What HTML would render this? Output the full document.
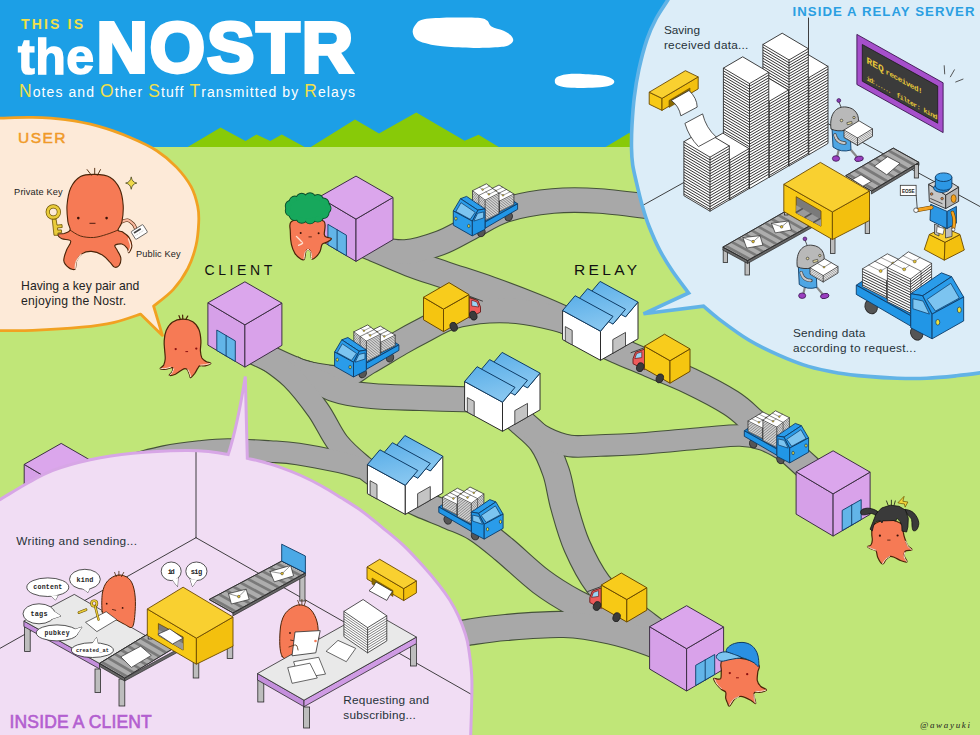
<!DOCTYPE html>
<html lang="en"><head><meta charset="utf-8"><title>This is the NOSTR</title>
<style>
html,body{margin:0;padding:0;background:#c0e678;}
body{width:980px;height:735px;overflow:hidden;font-family:"Liberation Sans",sans-serif;}
svg{display:block;}
</style></head><body>
<svg width="980" height="735" viewBox="0 0 980 735">
<defs><linearGradient id="roofg" x1="0" y1="0" x2="0.3" y2="1"><stop offset="0" stop-color="#5aaee8"/><stop offset="1" stop-color="#86c6f0"/></linearGradient></defs>
<rect x="0" y="0" width="980" height="148" fill="#1c9fe6"/>
<path d="M412.7,32.0 C412.5,29.3 414.1,26.1 416.0,24.0 C417.9,21.9 418.3,20.4 424.0,19.3 C429.7,18.2 441.0,17.9 450.0,17.6 C459.0,17.4 471.8,17.3 478.0,17.8 C484.2,18.3 484.8,19.1 487.0,20.5 C489.2,21.9 488.8,24.8 491.5,26.5 C494.2,28.2 499.8,29.2 503.0,30.6 C506.2,32.0 508.8,33.4 510.5,35.0 C512.2,36.6 513.5,38.8 513.2,40.5 C513.0,42.2 511.2,43.9 509.0,45.0 C506.8,46.1 505.9,46.5 500.0,47.0 C494.1,47.5 482.7,48.0 473.5,47.9 C464.3,47.8 452.4,47.1 445.0,46.5 C437.6,45.9 434.1,45.3 429.4,44.2 C424.7,43.1 419.8,42.0 417.0,40.0 C414.2,38.0 412.9,34.7 412.7,32.0Z" fill="#fff"/>
<path d="M554.8,81.0 C554.8,79.5 555.2,77.7 558.0,76.5 C560.8,75.3 565.1,74.0 571.4,73.7 C577.7,73.4 589.7,74.2 596.0,74.8 C602.3,75.4 606.0,76.2 609.0,77.3 C612.0,78.4 614.1,80.0 614.3,81.4 C614.5,82.8 613.0,84.5 610.0,85.5 C607.0,86.5 602.4,87.1 596.0,87.5 C589.6,87.9 577.7,88.1 571.4,87.8 C565.1,87.5 560.8,86.6 558.0,85.5 C555.2,84.4 554.8,82.5 554.8,81.0Z" fill="#fff"/>
<polygon points="186.0,148.0 220.6,127.6 245.5,141.0 256.5,134.4 270.3,141.0 281.8,134.4 305.5,147.5 310.0,147.5 355.0,119.6 379.0,133.5 416.3,112.6 464.7,140.8 478.5,134.7 500.4,148.0 604.0,148.0 629.0,133.0 660.0,148.0" fill="#88ca08"/>
<rect x="0" y="147" width="980" height="588" fill="#c0e678"/>
<path d="M360.0,242.0 C362.0,242.8 363.7,243.5 372.0,247.0 C380.3,250.5 397.8,258.3 410.0,263.0 C422.2,267.7 431.7,270.5 445.0,275.0 C458.3,279.5 475.0,284.7 490.0,290.0 C505.0,295.3 522.5,302.0 535.0,307.0 C547.5,312.0 556.7,316.2 565.0,320.0 C573.3,323.8 581.7,328.3 585.0,330.0" fill="none" stroke="#45523a" stroke-width="28.2" stroke-linejoin="round"/>
<path d="M360.0,242.0 C362.0,242.8 364.5,245.3 372.0,247.0 C379.5,248.7 393.7,252.7 405.0,252.0 C416.3,251.3 429.2,247.0 440.0,243.0 C450.8,239.0 459.2,233.5 470.0,228.0 C480.8,222.5 491.2,214.5 505.0,210.0 C518.8,205.5 537.2,202.5 553.0,201.0 C568.8,199.5 582.2,199.8 600.0,201.0 C617.8,202.2 650.0,206.8 660.0,208.0" fill="none" stroke="#45523a" stroke-width="25.7" stroke-linejoin="round"/>
<path d="M246.0,347.0 C248.7,348.3 253.0,350.8 262.0,355.0 C271.0,359.2 289.0,368.2 300.0,372.0 C311.0,375.8 320.3,376.8 328.0,378.0 C335.7,379.2 343.0,378.8 346.0,379.0" fill="none" stroke="#45523a" stroke-width="27.2" stroke-linejoin="round"/>
<path d="M300.0,372.0 C306.3,373.1 326.7,380.2 338.0,378.5 C349.3,376.8 357.7,367.9 368.0,362.0 C378.3,356.1 391.0,348.2 400.0,343.0 C409.0,337.8 413.5,335.3 422.0,331.0 C430.5,326.7 439.8,320.4 451.0,317.0 C462.2,313.6 476.7,311.3 489.0,310.5 C501.3,309.7 512.3,310.2 525.0,312.0 C537.7,313.8 555.0,318.0 565.0,321.0 C575.0,324.0 581.7,328.5 585.0,330.0" fill="none" stroke="#45523a" stroke-width="26.2" stroke-linejoin="round"/>
<path d="M292.0,368.0 C299.2,371.6 321.7,384.8 335.0,389.5 C348.3,394.2 357.8,394.6 372.0,396.0 C386.2,397.4 402.8,397.4 420.0,398.0 C437.2,398.6 465.8,399.2 475.0,399.5" fill="none" stroke="#45523a" stroke-width="26.2" stroke-linejoin="round"/>
<path d="M246.0,344.0 C248.7,345.8 254.3,349.3 262.0,355.0 C269.7,360.7 282.7,368.8 292.0,378.0 C301.3,387.2 310.3,399.2 318.0,410.0 C325.7,420.8 330.7,433.7 338.0,443.0 C345.3,452.3 353.0,458.5 362.0,466.0 C371.0,473.5 387.0,484.3 392.0,488.0" fill="none" stroke="#45523a" stroke-width="23.7" stroke-linejoin="round"/>
<path d="M100.0,473.0 C105.8,471.5 124.2,466.8 135.0,464.0 C145.8,461.2 154.2,458.6 165.0,456.5 C175.8,454.4 189.5,452.7 200.0,451.5 C210.5,450.3 216.3,449.5 228.0,449.5 C239.7,449.5 258.3,450.8 270.0,451.5 C281.7,452.2 286.3,452.2 298.0,454.0 C309.7,455.8 329.3,459.7 340.0,462.0 C350.7,464.3 358.3,467.0 362.0,468.0" fill="none" stroke="#45523a" stroke-width="22.7" stroke-linejoin="round"/>
<path d="M505.0,407.0 C507.3,409.2 512.8,414.2 519.0,420.0 C525.2,425.8 535.8,433.3 542.0,442.0 C548.2,450.7 552.3,461.3 556.0,472.0 C559.7,482.7 560.5,493.7 564.0,506.0 C567.5,518.3 571.3,533.0 577.0,546.0 C582.7,559.0 590.5,574.0 598.0,584.0 C605.5,594.0 613.7,599.0 622.0,606.0 C630.3,613.0 639.7,619.7 648.0,626.0 C656.3,632.3 668.0,641.0 672.0,644.0" fill="none" stroke="#45523a" stroke-width="28.2" stroke-linejoin="round"/>
<path d="M505.0,407.0 C507.3,409.2 512.2,414.8 519.0,420.0 C525.8,425.2 537.5,433.7 546.0,438.0 C554.5,442.3 561.0,444.8 570.0,446.0 C579.0,447.2 589.0,445.8 600.0,445.5 C611.0,445.2 618.7,445.2 636.0,444.0 C653.3,442.8 686.7,439.4 704.0,438.0 C721.3,436.6 730.2,435.2 740.0,435.5 C749.8,435.8 755.7,437.1 763.0,439.5 C770.3,441.9 777.8,446.6 784.0,450.0 C790.2,453.4 795.5,456.6 800.0,460.0 C804.5,463.4 809.2,468.7 811.0,470.4" fill="none" stroke="#45523a" stroke-width="22.7" stroke-linejoin="round"/>
<path d="M592.0,338.0 C596.2,340.0 607.3,345.7 617.0,350.0 C626.7,354.3 637.8,358.8 650.0,364.0 C662.2,369.2 676.5,374.5 690.0,381.0 C703.5,387.5 720.3,396.2 731.0,403.0 C741.7,409.8 747.2,416.3 754.0,422.0 C760.8,427.7 766.0,432.1 772.0,437.0 C778.0,441.9 783.5,445.8 790.0,451.4 C796.5,457.0 807.5,467.2 811.0,470.4" fill="none" stroke="#45523a" stroke-width="27.7" stroke-linejoin="round"/>
<path d="M400.0,494.0 C403.5,495.7 412.7,500.3 421.0,504.0 C429.3,507.7 440.8,512.0 450.0,516.0 C459.2,520.0 467.0,522.4 476.0,528.0 C485.0,533.6 493.2,540.6 504.0,549.5 C514.8,558.4 529.2,572.6 541.0,581.5 C552.8,590.4 563.2,596.6 575.0,603.0 C586.8,609.4 599.5,613.8 612.0,620.0 C624.5,626.2 639.5,634.2 650.0,640.0 C660.5,645.8 670.8,652.5 675.0,655.0" fill="none" stroke="#45523a" stroke-width="28.2" stroke-linejoin="round"/>
<path d="M440.0,637.0 C445.0,636.2 459.0,633.6 470.0,632.0 C481.0,630.4 490.3,628.8 506.0,627.5 C521.7,626.2 546.7,623.9 564.0,624.5 C581.3,625.1 595.7,627.9 610.0,631.0 C624.3,634.1 639.2,639.0 650.0,643.0 C660.8,647.0 670.8,653.0 675.0,655.0" fill="none" stroke="#45523a" stroke-width="27.2" stroke-linejoin="round"/>
<path d="M360.0,242.0 C362.0,242.8 363.7,243.5 372.0,247.0 C380.3,250.5 397.8,258.3 410.0,263.0 C422.2,267.7 431.7,270.5 445.0,275.0 C458.3,279.5 475.0,284.7 490.0,290.0 C505.0,295.3 522.5,302.0 535.0,307.0 C547.5,312.0 556.7,316.2 565.0,320.0 C573.3,323.8 581.7,328.3 585.0,330.0" fill="none" stroke="#a8a8a8" stroke-width="26" stroke-linejoin="round"/>
<path d="M360.0,242.0 C362.0,242.8 364.5,245.3 372.0,247.0 C379.5,248.7 393.7,252.7 405.0,252.0 C416.3,251.3 429.2,247.0 440.0,243.0 C450.8,239.0 459.2,233.5 470.0,228.0 C480.8,222.5 491.2,214.5 505.0,210.0 C518.8,205.5 537.2,202.5 553.0,201.0 C568.8,199.5 582.2,199.8 600.0,201.0 C617.8,202.2 650.0,206.8 660.0,208.0" fill="none" stroke="#a8a8a8" stroke-width="23.5" stroke-linejoin="round"/>
<path d="M246.0,347.0 C248.7,348.3 253.0,350.8 262.0,355.0 C271.0,359.2 289.0,368.2 300.0,372.0 C311.0,375.8 320.3,376.8 328.0,378.0 C335.7,379.2 343.0,378.8 346.0,379.0" fill="none" stroke="#a8a8a8" stroke-width="25" stroke-linejoin="round"/>
<path d="M300.0,372.0 C306.3,373.1 326.7,380.2 338.0,378.5 C349.3,376.8 357.7,367.9 368.0,362.0 C378.3,356.1 391.0,348.2 400.0,343.0 C409.0,337.8 413.5,335.3 422.0,331.0 C430.5,326.7 439.8,320.4 451.0,317.0 C462.2,313.6 476.7,311.3 489.0,310.5 C501.3,309.7 512.3,310.2 525.0,312.0 C537.7,313.8 555.0,318.0 565.0,321.0 C575.0,324.0 581.7,328.5 585.0,330.0" fill="none" stroke="#a8a8a8" stroke-width="24" stroke-linejoin="round"/>
<path d="M292.0,368.0 C299.2,371.6 321.7,384.8 335.0,389.5 C348.3,394.2 357.8,394.6 372.0,396.0 C386.2,397.4 402.8,397.4 420.0,398.0 C437.2,398.6 465.8,399.2 475.0,399.5" fill="none" stroke="#a8a8a8" stroke-width="24" stroke-linejoin="round"/>
<path d="M246.0,344.0 C248.7,345.8 254.3,349.3 262.0,355.0 C269.7,360.7 282.7,368.8 292.0,378.0 C301.3,387.2 310.3,399.2 318.0,410.0 C325.7,420.8 330.7,433.7 338.0,443.0 C345.3,452.3 353.0,458.5 362.0,466.0 C371.0,473.5 387.0,484.3 392.0,488.0" fill="none" stroke="#a8a8a8" stroke-width="21.5" stroke-linejoin="round"/>
<path d="M100.0,473.0 C105.8,471.5 124.2,466.8 135.0,464.0 C145.8,461.2 154.2,458.6 165.0,456.5 C175.8,454.4 189.5,452.7 200.0,451.5 C210.5,450.3 216.3,449.5 228.0,449.5 C239.7,449.5 258.3,450.8 270.0,451.5 C281.7,452.2 286.3,452.2 298.0,454.0 C309.7,455.8 329.3,459.7 340.0,462.0 C350.7,464.3 358.3,467.0 362.0,468.0" fill="none" stroke="#a8a8a8" stroke-width="20.5" stroke-linejoin="round"/>
<path d="M505.0,407.0 C507.3,409.2 512.8,414.2 519.0,420.0 C525.2,425.8 535.8,433.3 542.0,442.0 C548.2,450.7 552.3,461.3 556.0,472.0 C559.7,482.7 560.5,493.7 564.0,506.0 C567.5,518.3 571.3,533.0 577.0,546.0 C582.7,559.0 590.5,574.0 598.0,584.0 C605.5,594.0 613.7,599.0 622.0,606.0 C630.3,613.0 639.7,619.7 648.0,626.0 C656.3,632.3 668.0,641.0 672.0,644.0" fill="none" stroke="#a8a8a8" stroke-width="26" stroke-linejoin="round"/>
<path d="M505.0,407.0 C507.3,409.2 512.2,414.8 519.0,420.0 C525.8,425.2 537.5,433.7 546.0,438.0 C554.5,442.3 561.0,444.8 570.0,446.0 C579.0,447.2 589.0,445.8 600.0,445.5 C611.0,445.2 618.7,445.2 636.0,444.0 C653.3,442.8 686.7,439.4 704.0,438.0 C721.3,436.6 730.2,435.2 740.0,435.5 C749.8,435.8 755.7,437.1 763.0,439.5 C770.3,441.9 777.8,446.6 784.0,450.0 C790.2,453.4 795.5,456.6 800.0,460.0 C804.5,463.4 809.2,468.7 811.0,470.4" fill="none" stroke="#a8a8a8" stroke-width="20.5" stroke-linejoin="round"/>
<path d="M592.0,338.0 C596.2,340.0 607.3,345.7 617.0,350.0 C626.7,354.3 637.8,358.8 650.0,364.0 C662.2,369.2 676.5,374.5 690.0,381.0 C703.5,387.5 720.3,396.2 731.0,403.0 C741.7,409.8 747.2,416.3 754.0,422.0 C760.8,427.7 766.0,432.1 772.0,437.0 C778.0,441.9 783.5,445.8 790.0,451.4 C796.5,457.0 807.5,467.2 811.0,470.4" fill="none" stroke="#a8a8a8" stroke-width="25.5" stroke-linejoin="round"/>
<path d="M400.0,494.0 C403.5,495.7 412.7,500.3 421.0,504.0 C429.3,507.7 440.8,512.0 450.0,516.0 C459.2,520.0 467.0,522.4 476.0,528.0 C485.0,533.6 493.2,540.6 504.0,549.5 C514.8,558.4 529.2,572.6 541.0,581.5 C552.8,590.4 563.2,596.6 575.0,603.0 C586.8,609.4 599.5,613.8 612.0,620.0 C624.5,626.2 639.5,634.2 650.0,640.0 C660.5,645.8 670.8,652.5 675.0,655.0" fill="none" stroke="#a8a8a8" stroke-width="26" stroke-linejoin="round"/>
<path d="M440.0,637.0 C445.0,636.2 459.0,633.6 470.0,632.0 C481.0,630.4 490.3,628.8 506.0,627.5 C521.7,626.2 546.7,623.9 564.0,624.5 C581.3,625.1 595.7,627.9 610.0,631.0 C624.3,634.1 639.2,639.0 650.0,643.0 C660.8,647.0 670.8,653.0 675.0,655.0" fill="none" stroke="#a8a8a8" stroke-width="25" stroke-linejoin="round"/>
<polygon points="24.2,506.7 61.2,528.7 61.2,486.4 24.2,464.4" fill="#d6a0e8" stroke="#3d2f45" stroke-width="1" stroke-linejoin="round" />
<polygon points="61.2,528.7 98.2,507.0 98.2,464.7 61.2,486.4" fill="#d9a2ea" stroke="#3d2f45" stroke-width="1" stroke-linejoin="round" />
<polygon points="24.2,464.4 61.2,486.4 98.2,464.7 61.2,443.4" fill="#dba6ec" stroke="#3d2f45" stroke-width="1" stroke-linejoin="round" />
<polygon points="319.0,239.4 356.0,261.4 356.0,219.1 319.0,197.1" fill="#d6a0e8" stroke="#3d2f45" stroke-width="1" stroke-linejoin="round" />
<polygon points="356.0,261.4 393.0,239.7 393.0,197.4 356.0,219.1" fill="#d9a2ea" stroke="#3d2f45" stroke-width="1" stroke-linejoin="round" />
<polygon points="319.0,197.1 356.0,219.1 393.0,197.4 356.0,176.1" fill="#dba6ec" stroke="#3d2f45" stroke-width="1" stroke-linejoin="round" />
<polygon points="327.9,224.3 346.4,235.2 346.4,255.7 327.9,244.8" fill="#62b5e8" stroke="#0d3b66" stroke-width="0.9" stroke-linejoin="round" />
<polyline points="337.1,229.8 337.1,250.2" fill="none" stroke="#0d3b66" stroke-width="0.9" stroke-linejoin="round" stroke-linecap="round" />
<path d="M291.4,221.4 C288.5,223.6 290.3,227.6 290.3,231.4 C290.3,235.2 290.6,240.6 291.4,244.3 C292.2,248.0 293.5,251.1 295.0,253.6 C296.5,256.0 299.2,257.9 300.7,258.9 C302.3,259.8 303.5,260.4 304.3,259.3 C305.1,258.2 305.1,253.8 305.7,252.1 C306.3,250.5 307.0,249.3 307.9,249.3 C308.7,249.3 310.1,250.5 310.7,252.1 C311.4,253.7 310.9,258.0 311.7,258.9 C312.5,259.7 314.3,258.4 315.7,257.1 C317.1,255.9 318.9,253.6 320.0,251.4 C321.1,249.3 321.0,245.8 322.1,244.3 C323.3,242.7 325.6,243.1 327.1,242.1 C328.7,241.2 331.5,239.4 331.4,238.6 C331.3,237.7 327.6,237.9 326.4,237.1 C325.2,236.4 324.7,236.9 324.3,234.3 C323.9,231.7 326.7,224.0 324.0,221.4 C321.3,218.8 313.3,218.6 307.9,218.6 C302.4,218.6 294.4,219.3 291.4,221.4Z" fill="#f67a55" stroke="#4a2408" stroke-width="1.2" stroke-linejoin="round" stroke-linecap="round" />
<path d="M304.0,258.9 C304.2,257.8 304.5,254.1 305.1,252.6 C305.8,251.0 307.3,250.0 307.7,249.4" fill="none" stroke="#fde3d2" stroke-width="1.0" stroke-linejoin="round" stroke-linecap="round" />
<path d="M311.6,258.6 C311.5,257.6 311.5,254.1 311.0,252.6 C310.5,251.0 308.7,250.0 308.3,249.4" fill="none" stroke="#fde3d2" stroke-width="1.0" stroke-linejoin="round" stroke-linecap="round" />
<path d="M296.4,236.4 C297.1,237.1 299.7,239.6 300.7,240.7 C301.7,241.8 302.9,242.4 302.6,243.1 C302.2,243.9 299.2,245.0 298.6,245.4" fill="none" stroke="#fde3d2" stroke-width="1.3" stroke-linejoin="round" stroke-linecap="round" />
<circle cx="300.7" cy="232.9" r="1.0" fill="#3a1208"/>
<circle cx="318.6" cy="233.3" r="1.0" fill="#3a1208"/>
<polyline points="308.9,236.9 311.4,236.9" fill="none" stroke="#3a1208" stroke-width="0.8" stroke-linejoin="round" stroke-linecap="round" />
<circle cx="325.4" cy="208.3" r="5.2" fill="#17a85c" stroke="#0b4f2a" stroke-width="1.8"/>
<circle cx="323.4" cy="212.9" r="5.2" fill="#17a85c" stroke="#0b4f2a" stroke-width="1.8"/>
<circle cx="317.8" cy="216.5" r="5.2" fill="#17a85c" stroke="#0b4f2a" stroke-width="1.8"/>
<circle cx="310.0" cy="218.2" r="5.2" fill="#17a85c" stroke="#0b4f2a" stroke-width="1.8"/>
<circle cx="301.7" cy="217.6" r="5.2" fill="#17a85c" stroke="#0b4f2a" stroke-width="1.8"/>
<circle cx="294.8" cy="214.9" r="5.2" fill="#17a85c" stroke="#0b4f2a" stroke-width="1.8"/>
<circle cx="290.9" cy="210.7" r="5.2" fill="#17a85c" stroke="#0b4f2a" stroke-width="1.8"/>
<circle cx="290.9" cy="205.9" r="5.2" fill="#17a85c" stroke="#0b4f2a" stroke-width="1.8"/>
<circle cx="294.8" cy="201.7" r="5.2" fill="#17a85c" stroke="#0b4f2a" stroke-width="1.8"/>
<circle cx="301.7" cy="198.9" r="5.2" fill="#17a85c" stroke="#0b4f2a" stroke-width="1.8"/>
<circle cx="310.0" cy="198.4" r="5.2" fill="#17a85c" stroke="#0b4f2a" stroke-width="1.8"/>
<circle cx="317.8" cy="200.1" r="5.2" fill="#17a85c" stroke="#0b4f2a" stroke-width="1.8"/>
<circle cx="323.4" cy="203.6" r="5.2" fill="#17a85c" stroke="#0b4f2a" stroke-width="1.8"/>
<circle cx="325.4" cy="208.3" r="5.2" fill="#17a85c"/>
<circle cx="323.4" cy="212.9" r="5.2" fill="#17a85c"/>
<circle cx="317.8" cy="216.5" r="5.2" fill="#17a85c"/>
<circle cx="310.0" cy="218.2" r="5.2" fill="#17a85c"/>
<circle cx="301.7" cy="217.6" r="5.2" fill="#17a85c"/>
<circle cx="294.8" cy="214.9" r="5.2" fill="#17a85c"/>
<circle cx="290.9" cy="210.7" r="5.2" fill="#17a85c"/>
<circle cx="290.9" cy="205.9" r="5.2" fill="#17a85c"/>
<circle cx="294.8" cy="201.7" r="5.2" fill="#17a85c"/>
<circle cx="301.7" cy="198.9" r="5.2" fill="#17a85c"/>
<circle cx="310.0" cy="198.4" r="5.2" fill="#17a85c"/>
<circle cx="317.8" cy="200.1" r="5.2" fill="#17a85c"/>
<circle cx="323.4" cy="203.6" r="5.2" fill="#17a85c"/>
<ellipse cx="307.9" cy="208.3" rx="17.5" ry="10.0" fill="#17a85c"/>
<g transform="translate(472.2,235.9) scale(-1.0,1.0)">
<ellipse cx="-36.5" cy="-19.2" rx="3.6" ry="4.3" fill="#555" stroke="#2b2b2b" stroke-width="0.9" transform="rotate(-25 -36.5 -19.2)"/>
<ellipse cx="-9.2" cy="-3.4" rx="3.6" ry="4.3" fill="#555" stroke="#2b2b2b" stroke-width="0.9" transform="rotate(-25 -9.2 -3.4)"/>
<polygon points="-45.4,-32.1 -12.8,-13.8 5.6,-26.2 -27.0,-44.5" fill="#1a86d6" stroke="#0d3b66" stroke-width="0.9" stroke-linejoin="round" />
<polygon points="-41.7,-31.3 -27.3,-24.2 -12.4,-33.2 -12.4,-43.8 -26.8,-50.9 -41.7,-41.9" fill="#ffffff" stroke="#2b2b2b" stroke-width="0.75" stroke-linejoin="round" />
<path d="M-41.7,-40.3 L-27.3,-33.2 L-12.4,-42.2 M-41.7,-38.7 L-27.3,-31.6 L-12.4,-40.6 M-41.7,-37.1 L-27.3,-30.0 L-12.4,-39.0 M-41.7,-35.5 L-27.3,-28.4 L-12.4,-37.4 M-41.7,-33.9 L-27.3,-26.8 L-12.4,-35.8 M-41.7,-32.3 L-27.3,-25.2 L-12.4,-34.2" fill="none" stroke="#2b2b2b" stroke-width="0.55"/>
<polyline points="-41.7,-41.9 -27.3,-34.8 -12.4,-43.8" fill="none" stroke="#2b2b2b" stroke-width="0.75" stroke-linejoin="round" stroke-linecap="round" />
<polyline points="-27.3,-34.8 -27.3,-24.2" fill="none" stroke="#2b2b2b" stroke-width="0.75" stroke-linejoin="round" stroke-linecap="round" />
<polyline points="-34.2,-46.4 -19.9,-39.3 -19.9,-28.7" fill="none" stroke="#2b2b2b" stroke-width="0.6" stroke-linejoin="round" stroke-linecap="round" />
<polyline points="-38.0,-44.1 -30.8,-40.6 -27.1,-42.8" fill="none" stroke="#2b2b2b" stroke-width="0.45" stroke-linejoin="round" stroke-linecap="round" />
<circle cx="-30.8" cy="-40.6" r="0.9" fill="#e3c230" stroke="#2b2b2b" stroke-width="0.4"/>
<polyline points="-30.5,-48.6 -23.3,-45.1 -19.6,-47.3" fill="none" stroke="#2b2b2b" stroke-width="0.45" stroke-linejoin="round" stroke-linecap="round" />
<circle cx="-23.3" cy="-45.1" r="0.9" fill="#e3c230" stroke="#2b2b2b" stroke-width="0.4"/>
<polygon points="-26.8,-22.3 -12.9,-15.4 -0.3,-24.8 -0.3,-45.2 -14.2,-52.1 -26.8,-42.7" fill="#ffffff" stroke="#2b2b2b" stroke-width="0.75" stroke-linejoin="round" />
<path d="M-26.8,-41.1 L-12.9,-34.2 L-0.3,-43.6 M-26.8,-39.5 L-12.9,-32.6 L-0.3,-42.0 M-26.8,-37.9 L-12.9,-31.0 L-0.3,-40.4 M-26.8,-36.3 L-12.9,-29.4 L-0.3,-38.8 M-26.8,-34.7 L-12.9,-27.8 L-0.3,-37.2 M-26.8,-33.1 L-12.9,-26.2 L-0.3,-35.6 M-26.8,-31.5 L-12.9,-24.6 L-0.3,-34.0 M-26.8,-29.9 L-12.9,-23.0 L-0.3,-32.4 M-26.8,-28.3 L-12.9,-21.4 L-0.3,-30.8 M-26.8,-26.7 L-12.9,-19.8 L-0.3,-29.2 M-26.8,-25.1 L-12.9,-18.2 L-0.3,-27.6 M-26.8,-23.5 L-12.9,-16.6 L-0.3,-26.0" fill="none" stroke="#2b2b2b" stroke-width="0.55"/>
<polyline points="-26.8,-42.7 -12.9,-35.8 -0.3,-45.2" fill="none" stroke="#2b2b2b" stroke-width="0.75" stroke-linejoin="round" stroke-linecap="round" />
<polyline points="-12.9,-35.8 -12.9,-15.4" fill="none" stroke="#2b2b2b" stroke-width="0.75" stroke-linejoin="round" stroke-linecap="round" />
<polyline points="-20.5,-47.4 -6.6,-40.5 -6.6,-20.1" fill="none" stroke="#2b2b2b" stroke-width="0.6" stroke-linejoin="round" stroke-linecap="round" />
<polyline points="-23.6,-45.0 -16.7,-41.6 -13.6,-44.0" fill="none" stroke="#2b2b2b" stroke-width="0.45" stroke-linejoin="round" stroke-linecap="round" />
<circle cx="-16.7" cy="-41.6" r="0.9" fill="#e3c230" stroke="#2b2b2b" stroke-width="0.4"/>
<polyline points="-17.4,-49.8 -10.4,-46.3 -7.2,-48.7" fill="none" stroke="#2b2b2b" stroke-width="0.45" stroke-linejoin="round" stroke-linecap="round" />
<circle cx="-10.4" cy="-46.3" r="0.9" fill="#e3c230" stroke="#2b2b2b" stroke-width="0.4"/>
<polygon points="-45.4,-32.1 -12.8,-13.8 -12.8,-7.6 -45.4,-26.6" fill="#2196e6" stroke="#0d3b66" stroke-width="0.9" stroke-linejoin="round" />
<polygon points="-12.8,-27.0 5.6,-39.5 11.7,-37.2 -5.6,-25.8" fill="#2a9cea" stroke="#0d3b66" stroke-width="0.9" stroke-linejoin="round" />
<polygon points="-12.8,-6.6 -12.8,-27.0 -5.6,-25.8 0.0,-14.8 0.0,0.0" fill="#2196e6" stroke="#0d3b66" stroke-width="0.9" stroke-linejoin="round" />
<polygon points="0.0,-14.8 -5.6,-25.8 11.7,-37.2 18.9,-25.0" fill="#2a9cea" stroke="#0d3b66" stroke-width="0.9" stroke-linejoin="round" />
<polygon points="0.0,-14.8 18.9,-25.0 18.9,-10.7 0.0,0.0" fill="#2a9cea" stroke="#0d3b66" stroke-width="0.9" stroke-linejoin="round" />
<polygon points="2.0,-16.6 -3.0,-23.6 11.2,-33.2 16.3,-24.4" fill="#7cc4f0" stroke="#0d3b66" stroke-width="0.7200000000000001" stroke-linejoin="round" />
<polygon points="-11.5,-24.0 -5.4,-22.6 -1.6,-14.8 -11.5,-18.0" fill="#7cc4f0" stroke="#0d3b66" stroke-width="0.7200000000000001" stroke-linejoin="round" />
<ellipse cx="3.4" cy="-9.9" rx="1.2" ry="1.7" fill="#f2e23a" stroke="#0d3b66" stroke-width="0.7200000000000001"/>
<ellipse cx="16.3" cy="-17.3" rx="1.2" ry="1.7" fill="#f2e23a" stroke="#0d3b66" stroke-width="0.7200000000000001"/>
</g>
<g transform="translate(443.5,331.6) scale(-1,1)">
<polygon points="-25.5,-34.0 -34.5,-31.0 -37.0,-24.5 -37.0,-19.5 -25.5,-13.5" fill="#ee5a5a" stroke="#6a1a1a" stroke-width="0.9" stroke-linejoin="round" />
<polygon points="-35.2,-24.6 -33.4,-29.6 -28.2,-31.4 -28.2,-25.6" fill="#9ad4f5" stroke="#6a1a1a" stroke-width="0.7" stroke-linejoin="round" />
<polyline points="-25.5,-35.5 -39.0,-30.5" fill="none" stroke="#333" stroke-width="0.9" stroke-linejoin="round" stroke-linecap="round" />
<polygon points="-25.5,-14.5 0.0,0.0 0.0,-22.5 -25.5,-37.0" fill="#f7c915" stroke="#6b4a00" stroke-width="1.0" stroke-linejoin="round" />
<polygon points="0.0,0.0 20.0,-11.8 20.0,-34.3 0.0,-22.5" fill="#f5c510" stroke="#6b4a00" stroke-width="1.0" stroke-linejoin="round" />
<polygon points="-25.5,-37.0 0.0,-22.5 20.0,-34.3 -5.5,-49.0" fill="#f8cc1c" stroke="#6b4a00" stroke-width="1.0" stroke-linejoin="round" />
<ellipse cx="-29.8" cy="-16.0" rx="3.5" ry="4.6" fill="#3b3b3b" stroke="#222" stroke-width="0.8" transform="rotate(20 -29.8 -16.0)"/>
<ellipse cx="-10.2" cy="-4.8" rx="3.5" ry="4.6" fill="#3b3b3b" stroke="#222" stroke-width="0.8" transform="rotate(20 -10.2 -4.8)"/>
</g>
<polygon points="207.9,345.1 244.9,367.1 244.9,324.8 207.9,302.8" fill="#d6a0e8" stroke="#3d2f45" stroke-width="1" stroke-linejoin="round" />
<polygon points="244.9,367.1 281.9,345.4 281.9,303.1 244.9,324.8" fill="#d9a2ea" stroke="#3d2f45" stroke-width="1" stroke-linejoin="round" />
<polygon points="207.9,302.8 244.9,324.8 281.9,303.1 244.9,281.8" fill="#dba6ec" stroke="#3d2f45" stroke-width="1" stroke-linejoin="round" />
<polygon points="216.8,330.0 235.3,340.9 235.3,361.4 216.8,350.5" fill="#62b5e8" stroke="#0d3b66" stroke-width="0.9" stroke-linejoin="round" />
<polyline points="226.1,335.5 226.1,356.0" fill="none" stroke="#0d3b66" stroke-width="0.9" stroke-linejoin="round" stroke-linecap="round" />
<path d="M182.6,319.2 C179.1,319.3 175.1,320.4 172.3,322.2 C169.6,324.1 167.6,327.3 166.2,330.4 C164.9,333.5 164.4,337.2 164.2,340.6 C163.9,344.0 164.5,347.8 164.7,350.8 C164.9,353.9 165.4,356.6 165.2,359.0 C165.0,361.4 164.5,363.5 163.7,365.1 C162.8,366.7 159.7,368.0 160.1,368.7 C160.5,369.4 164.4,369.4 166.2,369.2 C168.1,369.0 170.2,367.8 171.3,367.7 C172.4,367.5 172.8,367.6 172.9,368.4 C172.9,369.1 172.4,371.1 171.8,372.2 C171.2,373.4 168.7,375.0 169.3,375.3 C169.9,375.6 173.4,375.1 175.4,374.3 C177.4,373.4 179.9,371.1 181.5,370.2 C183.1,369.3 184.1,368.7 185.1,368.7 C186.1,368.7 186.9,369.1 187.7,370.2 C188.4,371.3 189.2,374.1 189.7,375.3 C190.2,376.5 189.9,377.9 190.7,377.6 C191.6,377.2 193.6,374.8 194.8,373.3 C196.0,371.7 197.0,369.4 197.9,368.2 C198.7,366.9 198.5,366.3 199.9,365.9 C201.3,365.5 204.2,366.1 206.0,365.6 C207.9,365.2 210.9,363.9 210.9,363.3 C210.9,362.6 207.5,362.4 206.0,361.5 C204.5,360.6 202.9,359.7 201.9,358.0 C201.0,356.2 200.6,353.7 200.4,350.8 C200.2,347.9 201.2,344.2 200.9,340.6 C200.7,337.0 200.2,332.5 198.9,329.4 C197.5,326.2 195.5,323.4 192.8,321.7 C190.0,320.0 186.0,319.1 182.6,319.2Z" fill="#f67a55" stroke="#4a2408" stroke-width="1.2" stroke-linejoin="round" stroke-linecap="round" />
<polyline points="179.0,315.6 180.3,319.2" fill="none" stroke="#4a2408" stroke-width="1.2" stroke-linejoin="round" stroke-linecap="round" />
<polyline points="182.6,315.1 182.8,319.0" fill="none" stroke="#4a2408" stroke-width="1.2" stroke-linejoin="round" stroke-linecap="round" />
<polyline points="187.7,316.1 185.9,319.2" fill="none" stroke="#4a2408" stroke-width="1.2" stroke-linejoin="round" stroke-linecap="round" />
<circle cx="175.7" cy="349.1" r="1.15" fill="#8a1010"/>
<circle cx="196.3" cy="348.6" r="1.15" fill="#8a1010"/>
<polyline points="185.8,351.6 187.7,351.6" fill="none" stroke="#8a1010" stroke-width="1.0" stroke-linejoin="round" stroke-linecap="round" />
<path d="M160.9,368.6 C161.8,368.5 164.6,368.6 166.2,368.4 C167.9,368.1 170.1,367.3 170.8,367.1" fill="none" stroke="#fde3d2" stroke-width="1.0" stroke-linejoin="round" stroke-linecap="round" />
<path d="M169.9,374.9 C170.3,374.5 171.7,373.5 172.3,372.4 C173.0,371.4 173.4,369.3 173.6,368.7" fill="none" stroke="#fde3d2" stroke-width="1.0" stroke-linejoin="round" stroke-linecap="round" />
<path d="M190.7,376.8 C190.5,376.2 190.0,373.9 189.5,372.8 C189.0,371.6 188.1,370.2 187.9,369.7" fill="none" stroke="#fde3d2" stroke-width="1.0" stroke-linejoin="round" stroke-linecap="round" />
<path d="M210.1,363.5 C209.3,363.7 207.1,364.3 205.5,364.6 C203.9,364.9 201.5,365.0 200.7,365.1" fill="none" stroke="#fde3d2" stroke-width="1.0" stroke-linejoin="round" stroke-linecap="round" />
<polygon points="562.6,339.6 600.5,360.3 600.5,331.2 562.6,310.5" fill="#ffffff" stroke="#2b2b2b" stroke-width="1" stroke-linejoin="round" />
<polygon points="600.5,360.3 638.0,338.9 638.0,302.1 625.5,316.9 625.5,309.3 613.0,324.1 613.0,316.4 600.5,331.2" fill="#ffffff" stroke="#2b2b2b" stroke-width="1" stroke-linejoin="round" />
<polygon points="587.6,296.2 600.1,281.4 638.0,302.1 625.5,316.9" fill="url(#roofg)" stroke="#0d3b66" stroke-width="1" stroke-linejoin="round" />
<polygon points="575.1,303.4 587.6,288.6 625.5,309.3 613.0,324.1" fill="url(#roofg)" stroke="#0d3b66" stroke-width="1" stroke-linejoin="round" />
<polygon points="562.6,310.5 575.1,295.7 613.0,316.4 600.5,331.2" fill="url(#roofg)" stroke="#0d3b66" stroke-width="1" stroke-linejoin="round" />
<polygon points="565.3,326.6 572.2,330.4 572.2,344.9 565.3,341.1" fill="#c4c4c4" stroke="#2b2b2b" stroke-width="0.8" stroke-linejoin="round" />
<polygon points="612.8,339.6 625.5,332.4 625.5,346.0 612.8,353.3" fill="#c4c4c4" stroke="#2b2b2b" stroke-width="0.8" stroke-linejoin="round" />
<g transform="translate(353.5,377.0) scale(-1.0,1.0)">
<ellipse cx="-36.5" cy="-19.2" rx="3.6" ry="4.3" fill="#555" stroke="#2b2b2b" stroke-width="0.9" transform="rotate(-25 -36.5 -19.2)"/>
<ellipse cx="-9.2" cy="-3.4" rx="3.6" ry="4.3" fill="#555" stroke="#2b2b2b" stroke-width="0.9" transform="rotate(-25 -9.2 -3.4)"/>
<polygon points="-45.4,-32.1 -12.8,-13.8 5.6,-26.2 -27.0,-44.5" fill="#1a86d6" stroke="#0d3b66" stroke-width="0.9" stroke-linejoin="round" />
<polygon points="-41.7,-31.3 -27.3,-24.2 -12.4,-33.2 -12.4,-43.8 -26.8,-50.9 -41.7,-41.9" fill="#ffffff" stroke="#2b2b2b" stroke-width="0.75" stroke-linejoin="round" />
<path d="M-41.7,-40.3 L-27.3,-33.2 L-12.4,-42.2 M-41.7,-38.7 L-27.3,-31.6 L-12.4,-40.6 M-41.7,-37.1 L-27.3,-30.0 L-12.4,-39.0 M-41.7,-35.5 L-27.3,-28.4 L-12.4,-37.4 M-41.7,-33.9 L-27.3,-26.8 L-12.4,-35.8 M-41.7,-32.3 L-27.3,-25.2 L-12.4,-34.2" fill="none" stroke="#2b2b2b" stroke-width="0.55"/>
<polyline points="-41.7,-41.9 -27.3,-34.8 -12.4,-43.8" fill="none" stroke="#2b2b2b" stroke-width="0.75" stroke-linejoin="round" stroke-linecap="round" />
<polyline points="-27.3,-34.8 -27.3,-24.2" fill="none" stroke="#2b2b2b" stroke-width="0.75" stroke-linejoin="round" stroke-linecap="round" />
<polyline points="-34.2,-46.4 -19.9,-39.3 -19.9,-28.7" fill="none" stroke="#2b2b2b" stroke-width="0.6" stroke-linejoin="round" stroke-linecap="round" />
<polyline points="-38.0,-44.1 -30.8,-40.6 -27.1,-42.8" fill="none" stroke="#2b2b2b" stroke-width="0.45" stroke-linejoin="round" stroke-linecap="round" />
<circle cx="-30.8" cy="-40.6" r="0.9" fill="#e3c230" stroke="#2b2b2b" stroke-width="0.4"/>
<polyline points="-30.5,-48.6 -23.3,-45.1 -19.6,-47.3" fill="none" stroke="#2b2b2b" stroke-width="0.45" stroke-linejoin="round" stroke-linecap="round" />
<circle cx="-23.3" cy="-45.1" r="0.9" fill="#e3c230" stroke="#2b2b2b" stroke-width="0.4"/>
<polygon points="-26.8,-22.3 -12.9,-15.4 -0.3,-24.8 -0.3,-45.2 -14.2,-52.1 -26.8,-42.7" fill="#ffffff" stroke="#2b2b2b" stroke-width="0.75" stroke-linejoin="round" />
<path d="M-26.8,-41.1 L-12.9,-34.2 L-0.3,-43.6 M-26.8,-39.5 L-12.9,-32.6 L-0.3,-42.0 M-26.8,-37.9 L-12.9,-31.0 L-0.3,-40.4 M-26.8,-36.3 L-12.9,-29.4 L-0.3,-38.8 M-26.8,-34.7 L-12.9,-27.8 L-0.3,-37.2 M-26.8,-33.1 L-12.9,-26.2 L-0.3,-35.6 M-26.8,-31.5 L-12.9,-24.6 L-0.3,-34.0 M-26.8,-29.9 L-12.9,-23.0 L-0.3,-32.4 M-26.8,-28.3 L-12.9,-21.4 L-0.3,-30.8 M-26.8,-26.7 L-12.9,-19.8 L-0.3,-29.2 M-26.8,-25.1 L-12.9,-18.2 L-0.3,-27.6 M-26.8,-23.5 L-12.9,-16.6 L-0.3,-26.0" fill="none" stroke="#2b2b2b" stroke-width="0.55"/>
<polyline points="-26.8,-42.7 -12.9,-35.8 -0.3,-45.2" fill="none" stroke="#2b2b2b" stroke-width="0.75" stroke-linejoin="round" stroke-linecap="round" />
<polyline points="-12.9,-35.8 -12.9,-15.4" fill="none" stroke="#2b2b2b" stroke-width="0.75" stroke-linejoin="round" stroke-linecap="round" />
<polyline points="-20.5,-47.4 -6.6,-40.5 -6.6,-20.1" fill="none" stroke="#2b2b2b" stroke-width="0.6" stroke-linejoin="round" stroke-linecap="round" />
<polyline points="-23.6,-45.0 -16.7,-41.6 -13.6,-44.0" fill="none" stroke="#2b2b2b" stroke-width="0.45" stroke-linejoin="round" stroke-linecap="round" />
<circle cx="-16.7" cy="-41.6" r="0.9" fill="#e3c230" stroke="#2b2b2b" stroke-width="0.4"/>
<polyline points="-17.4,-49.8 -10.4,-46.3 -7.2,-48.7" fill="none" stroke="#2b2b2b" stroke-width="0.45" stroke-linejoin="round" stroke-linecap="round" />
<circle cx="-10.4" cy="-46.3" r="0.9" fill="#e3c230" stroke="#2b2b2b" stroke-width="0.4"/>
<polygon points="-45.4,-32.1 -12.8,-13.8 -12.8,-7.6 -45.4,-26.6" fill="#2196e6" stroke="#0d3b66" stroke-width="0.9" stroke-linejoin="round" />
<polygon points="-12.8,-27.0 5.6,-39.5 11.7,-37.2 -5.6,-25.8" fill="#2a9cea" stroke="#0d3b66" stroke-width="0.9" stroke-linejoin="round" />
<polygon points="-12.8,-6.6 -12.8,-27.0 -5.6,-25.8 0.0,-14.8 0.0,0.0" fill="#2196e6" stroke="#0d3b66" stroke-width="0.9" stroke-linejoin="round" />
<polygon points="0.0,-14.8 -5.6,-25.8 11.7,-37.2 18.9,-25.0" fill="#2a9cea" stroke="#0d3b66" stroke-width="0.9" stroke-linejoin="round" />
<polygon points="0.0,-14.8 18.9,-25.0 18.9,-10.7 0.0,0.0" fill="#2a9cea" stroke="#0d3b66" stroke-width="0.9" stroke-linejoin="round" />
<polygon points="2.0,-16.6 -3.0,-23.6 11.2,-33.2 16.3,-24.4" fill="#7cc4f0" stroke="#0d3b66" stroke-width="0.7200000000000001" stroke-linejoin="round" />
<polygon points="-11.5,-24.0 -5.4,-22.6 -1.6,-14.8 -11.5,-18.0" fill="#7cc4f0" stroke="#0d3b66" stroke-width="0.7200000000000001" stroke-linejoin="round" />
<ellipse cx="3.4" cy="-9.9" rx="1.2" ry="1.7" fill="#f2e23a" stroke="#0d3b66" stroke-width="0.7200000000000001"/>
<ellipse cx="16.3" cy="-17.3" rx="1.2" ry="1.7" fill="#f2e23a" stroke="#0d3b66" stroke-width="0.7200000000000001"/>
</g>
<g transform="translate(670.0,383.2) scale(1,1)">
<polygon points="-25.5,-34.0 -34.5,-31.0 -37.0,-24.5 -37.0,-19.5 -25.5,-13.5" fill="#ee5a5a" stroke="#6a1a1a" stroke-width="0.9" stroke-linejoin="round" />
<polygon points="-35.2,-24.6 -33.4,-29.6 -28.2,-31.4 -28.2,-25.6" fill="#9ad4f5" stroke="#6a1a1a" stroke-width="0.7" stroke-linejoin="round" />
<polyline points="-25.5,-35.5 -39.0,-30.5" fill="none" stroke="#333" stroke-width="0.9" stroke-linejoin="round" stroke-linecap="round" />
<polygon points="-25.5,-14.5 0.0,0.0 0.0,-22.5 -25.5,-37.0" fill="#f7c915" stroke="#6b4a00" stroke-width="1.0" stroke-linejoin="round" />
<polygon points="0.0,0.0 20.0,-11.8 20.0,-34.3 0.0,-22.5" fill="#f5c510" stroke="#6b4a00" stroke-width="1.0" stroke-linejoin="round" />
<polygon points="-25.5,-37.0 0.0,-22.5 20.0,-34.3 -5.5,-49.0" fill="#f8cc1c" stroke="#6b4a00" stroke-width="1.0" stroke-linejoin="round" />
<ellipse cx="-29.8" cy="-16.0" rx="3.5" ry="4.6" fill="#3b3b3b" stroke="#222" stroke-width="0.8" transform="rotate(20 -29.8 -16.0)"/>
<ellipse cx="-10.2" cy="-4.8" rx="3.5" ry="4.6" fill="#3b3b3b" stroke="#222" stroke-width="0.8" transform="rotate(20 -10.2 -4.8)"/>
</g>
<polygon points="464.6,410.6 502.5,431.3 502.5,402.2 464.6,381.5" fill="#ffffff" stroke="#2b2b2b" stroke-width="1" stroke-linejoin="round" />
<polygon points="502.5,431.3 540.0,409.9 540.0,373.1 527.5,387.9 527.5,380.3 515.0,395.1 515.0,387.4 502.5,402.2" fill="#ffffff" stroke="#2b2b2b" stroke-width="1" stroke-linejoin="round" />
<polygon points="489.6,367.2 502.1,352.4 540.0,373.1 527.5,387.9" fill="url(#roofg)" stroke="#0d3b66" stroke-width="1" stroke-linejoin="round" />
<polygon points="477.1,374.4 489.6,359.6 527.5,380.3 515.0,395.1" fill="url(#roofg)" stroke="#0d3b66" stroke-width="1" stroke-linejoin="round" />
<polygon points="464.6,381.5 477.1,366.7 515.0,387.4 502.5,402.2" fill="url(#roofg)" stroke="#0d3b66" stroke-width="1" stroke-linejoin="round" />
<polygon points="467.3,397.6 474.2,401.4 474.2,415.9 467.3,412.1" fill="#c4c4c4" stroke="#2b2b2b" stroke-width="0.8" stroke-linejoin="round" />
<polygon points="514.8,410.6 527.5,403.4 527.5,417.0 514.8,424.3" fill="#c4c4c4" stroke="#2b2b2b" stroke-width="0.8" stroke-linejoin="round" />
<g transform="translate(789.7,462.9) scale(1.0,1.0)">
<ellipse cx="-36.5" cy="-19.2" rx="3.6" ry="4.3" fill="#555" stroke="#2b2b2b" stroke-width="0.9" transform="rotate(-25 -36.5 -19.2)"/>
<ellipse cx="-9.2" cy="-3.4" rx="3.6" ry="4.3" fill="#555" stroke="#2b2b2b" stroke-width="0.9" transform="rotate(-25 -9.2 -3.4)"/>
<polygon points="-45.4,-32.1 -12.8,-13.8 5.6,-26.2 -27.0,-44.5" fill="#1a86d6" stroke="#0d3b66" stroke-width="0.9" stroke-linejoin="round" />
<polygon points="-41.7,-31.3 -27.3,-24.2 -12.4,-33.2 -12.4,-43.8 -26.8,-50.9 -41.7,-41.9" fill="#ffffff" stroke="#2b2b2b" stroke-width="0.75" stroke-linejoin="round" />
<path d="M-41.7,-40.3 L-27.3,-33.2 L-12.4,-42.2 M-41.7,-38.7 L-27.3,-31.6 L-12.4,-40.6 M-41.7,-37.1 L-27.3,-30.0 L-12.4,-39.0 M-41.7,-35.5 L-27.3,-28.4 L-12.4,-37.4 M-41.7,-33.9 L-27.3,-26.8 L-12.4,-35.8 M-41.7,-32.3 L-27.3,-25.2 L-12.4,-34.2" fill="none" stroke="#2b2b2b" stroke-width="0.55"/>
<polyline points="-41.7,-41.9 -27.3,-34.8 -12.4,-43.8" fill="none" stroke="#2b2b2b" stroke-width="0.75" stroke-linejoin="round" stroke-linecap="round" />
<polyline points="-27.3,-34.8 -27.3,-24.2" fill="none" stroke="#2b2b2b" stroke-width="0.75" stroke-linejoin="round" stroke-linecap="round" />
<polyline points="-34.2,-46.4 -19.9,-39.3 -19.9,-28.7" fill="none" stroke="#2b2b2b" stroke-width="0.6" stroke-linejoin="round" stroke-linecap="round" />
<polyline points="-38.0,-44.1 -30.8,-40.6 -27.1,-42.8" fill="none" stroke="#2b2b2b" stroke-width="0.45" stroke-linejoin="round" stroke-linecap="round" />
<circle cx="-30.8" cy="-40.6" r="0.9" fill="#e3c230" stroke="#2b2b2b" stroke-width="0.4"/>
<polyline points="-30.5,-48.6 -23.3,-45.1 -19.6,-47.3" fill="none" stroke="#2b2b2b" stroke-width="0.45" stroke-linejoin="round" stroke-linecap="round" />
<circle cx="-23.3" cy="-45.1" r="0.9" fill="#e3c230" stroke="#2b2b2b" stroke-width="0.4"/>
<polygon points="-26.8,-22.3 -12.9,-15.4 -0.3,-24.8 -0.3,-45.2 -14.2,-52.1 -26.8,-42.7" fill="#ffffff" stroke="#2b2b2b" stroke-width="0.75" stroke-linejoin="round" />
<path d="M-26.8,-41.1 L-12.9,-34.2 L-0.3,-43.6 M-26.8,-39.5 L-12.9,-32.6 L-0.3,-42.0 M-26.8,-37.9 L-12.9,-31.0 L-0.3,-40.4 M-26.8,-36.3 L-12.9,-29.4 L-0.3,-38.8 M-26.8,-34.7 L-12.9,-27.8 L-0.3,-37.2 M-26.8,-33.1 L-12.9,-26.2 L-0.3,-35.6 M-26.8,-31.5 L-12.9,-24.6 L-0.3,-34.0 M-26.8,-29.9 L-12.9,-23.0 L-0.3,-32.4 M-26.8,-28.3 L-12.9,-21.4 L-0.3,-30.8 M-26.8,-26.7 L-12.9,-19.8 L-0.3,-29.2 M-26.8,-25.1 L-12.9,-18.2 L-0.3,-27.6 M-26.8,-23.5 L-12.9,-16.6 L-0.3,-26.0" fill="none" stroke="#2b2b2b" stroke-width="0.55"/>
<polyline points="-26.8,-42.7 -12.9,-35.8 -0.3,-45.2" fill="none" stroke="#2b2b2b" stroke-width="0.75" stroke-linejoin="round" stroke-linecap="round" />
<polyline points="-12.9,-35.8 -12.9,-15.4" fill="none" stroke="#2b2b2b" stroke-width="0.75" stroke-linejoin="round" stroke-linecap="round" />
<polyline points="-20.5,-47.4 -6.6,-40.5 -6.6,-20.1" fill="none" stroke="#2b2b2b" stroke-width="0.6" stroke-linejoin="round" stroke-linecap="round" />
<polyline points="-23.6,-45.0 -16.7,-41.6 -13.6,-44.0" fill="none" stroke="#2b2b2b" stroke-width="0.45" stroke-linejoin="round" stroke-linecap="round" />
<circle cx="-16.7" cy="-41.6" r="0.9" fill="#e3c230" stroke="#2b2b2b" stroke-width="0.4"/>
<polyline points="-17.4,-49.8 -10.4,-46.3 -7.2,-48.7" fill="none" stroke="#2b2b2b" stroke-width="0.45" stroke-linejoin="round" stroke-linecap="round" />
<circle cx="-10.4" cy="-46.3" r="0.9" fill="#e3c230" stroke="#2b2b2b" stroke-width="0.4"/>
<polygon points="-45.4,-32.1 -12.8,-13.8 -12.8,-7.6 -45.4,-26.6" fill="#2196e6" stroke="#0d3b66" stroke-width="0.9" stroke-linejoin="round" />
<polygon points="-12.8,-27.0 5.6,-39.5 11.7,-37.2 -5.6,-25.8" fill="#2a9cea" stroke="#0d3b66" stroke-width="0.9" stroke-linejoin="round" />
<polygon points="-12.8,-6.6 -12.8,-27.0 -5.6,-25.8 0.0,-14.8 0.0,0.0" fill="#2196e6" stroke="#0d3b66" stroke-width="0.9" stroke-linejoin="round" />
<polygon points="0.0,-14.8 -5.6,-25.8 11.7,-37.2 18.9,-25.0" fill="#2a9cea" stroke="#0d3b66" stroke-width="0.9" stroke-linejoin="round" />
<polygon points="0.0,-14.8 18.9,-25.0 18.9,-10.7 0.0,0.0" fill="#2a9cea" stroke="#0d3b66" stroke-width="0.9" stroke-linejoin="round" />
<polygon points="2.0,-16.6 -3.0,-23.6 11.2,-33.2 16.3,-24.4" fill="#7cc4f0" stroke="#0d3b66" stroke-width="0.7200000000000001" stroke-linejoin="round" />
<polygon points="-11.5,-24.0 -5.4,-22.6 -1.6,-14.8 -11.5,-18.0" fill="#7cc4f0" stroke="#0d3b66" stroke-width="0.7200000000000001" stroke-linejoin="round" />
<ellipse cx="3.4" cy="-9.9" rx="1.2" ry="1.7" fill="#f2e23a" stroke="#0d3b66" stroke-width="0.7200000000000001"/>
<ellipse cx="16.3" cy="-17.3" rx="1.2" ry="1.7" fill="#f2e23a" stroke="#0d3b66" stroke-width="0.7200000000000001"/>
</g>
<polygon points="367.4,493.7 405.3,514.4 405.3,485.3 367.4,464.6" fill="#ffffff" stroke="#2b2b2b" stroke-width="1" stroke-linejoin="round" />
<polygon points="405.3,514.4 442.8,493.0 442.8,456.2 430.3,471.0 430.3,463.4 417.8,478.2 417.8,470.5 405.3,485.3" fill="#ffffff" stroke="#2b2b2b" stroke-width="1" stroke-linejoin="round" />
<polygon points="392.4,450.3 404.9,435.5 442.8,456.2 430.3,471.0" fill="url(#roofg)" stroke="#0d3b66" stroke-width="1" stroke-linejoin="round" />
<polygon points="379.9,457.5 392.4,442.7 430.3,463.4 417.8,478.2" fill="url(#roofg)" stroke="#0d3b66" stroke-width="1" stroke-linejoin="round" />
<polygon points="367.4,464.6 379.9,449.8 417.8,470.5 405.3,485.3" fill="url(#roofg)" stroke="#0d3b66" stroke-width="1" stroke-linejoin="round" />
<polygon points="370.1,480.7 377.0,484.5 377.0,499.0 370.1,495.2" fill="#c4c4c4" stroke="#2b2b2b" stroke-width="0.8" stroke-linejoin="round" />
<polygon points="417.6,493.7 430.3,486.5 430.3,500.1 417.6,507.4" fill="#c4c4c4" stroke="#2b2b2b" stroke-width="0.8" stroke-linejoin="round" />
<g transform="translate(484.2,539.1) scale(1.0,1.0)">
<ellipse cx="-36.5" cy="-19.2" rx="3.6" ry="4.3" fill="#555" stroke="#2b2b2b" stroke-width="0.9" transform="rotate(-25 -36.5 -19.2)"/>
<ellipse cx="-9.2" cy="-3.4" rx="3.6" ry="4.3" fill="#555" stroke="#2b2b2b" stroke-width="0.9" transform="rotate(-25 -9.2 -3.4)"/>
<polygon points="-45.4,-32.1 -12.8,-13.8 5.6,-26.2 -27.0,-44.5" fill="#1a86d6" stroke="#0d3b66" stroke-width="0.9" stroke-linejoin="round" />
<polygon points="-41.7,-31.3 -27.3,-24.2 -12.4,-33.2 -12.4,-43.8 -26.8,-50.9 -41.7,-41.9" fill="#ffffff" stroke="#2b2b2b" stroke-width="0.75" stroke-linejoin="round" />
<path d="M-41.7,-40.3 L-27.3,-33.2 L-12.4,-42.2 M-41.7,-38.7 L-27.3,-31.6 L-12.4,-40.6 M-41.7,-37.1 L-27.3,-30.0 L-12.4,-39.0 M-41.7,-35.5 L-27.3,-28.4 L-12.4,-37.4 M-41.7,-33.9 L-27.3,-26.8 L-12.4,-35.8 M-41.7,-32.3 L-27.3,-25.2 L-12.4,-34.2" fill="none" stroke="#2b2b2b" stroke-width="0.55"/>
<polyline points="-41.7,-41.9 -27.3,-34.8 -12.4,-43.8" fill="none" stroke="#2b2b2b" stroke-width="0.75" stroke-linejoin="round" stroke-linecap="round" />
<polyline points="-27.3,-34.8 -27.3,-24.2" fill="none" stroke="#2b2b2b" stroke-width="0.75" stroke-linejoin="round" stroke-linecap="round" />
<polyline points="-34.2,-46.4 -19.9,-39.3 -19.9,-28.7" fill="none" stroke="#2b2b2b" stroke-width="0.6" stroke-linejoin="round" stroke-linecap="round" />
<polyline points="-38.0,-44.1 -30.8,-40.6 -27.1,-42.8" fill="none" stroke="#2b2b2b" stroke-width="0.45" stroke-linejoin="round" stroke-linecap="round" />
<circle cx="-30.8" cy="-40.6" r="0.9" fill="#e3c230" stroke="#2b2b2b" stroke-width="0.4"/>
<polyline points="-30.5,-48.6 -23.3,-45.1 -19.6,-47.3" fill="none" stroke="#2b2b2b" stroke-width="0.45" stroke-linejoin="round" stroke-linecap="round" />
<circle cx="-23.3" cy="-45.1" r="0.9" fill="#e3c230" stroke="#2b2b2b" stroke-width="0.4"/>
<polygon points="-26.8,-22.3 -12.9,-15.4 -0.3,-24.8 -0.3,-45.2 -14.2,-52.1 -26.8,-42.7" fill="#ffffff" stroke="#2b2b2b" stroke-width="0.75" stroke-linejoin="round" />
<path d="M-26.8,-41.1 L-12.9,-34.2 L-0.3,-43.6 M-26.8,-39.5 L-12.9,-32.6 L-0.3,-42.0 M-26.8,-37.9 L-12.9,-31.0 L-0.3,-40.4 M-26.8,-36.3 L-12.9,-29.4 L-0.3,-38.8 M-26.8,-34.7 L-12.9,-27.8 L-0.3,-37.2 M-26.8,-33.1 L-12.9,-26.2 L-0.3,-35.6 M-26.8,-31.5 L-12.9,-24.6 L-0.3,-34.0 M-26.8,-29.9 L-12.9,-23.0 L-0.3,-32.4 M-26.8,-28.3 L-12.9,-21.4 L-0.3,-30.8 M-26.8,-26.7 L-12.9,-19.8 L-0.3,-29.2 M-26.8,-25.1 L-12.9,-18.2 L-0.3,-27.6 M-26.8,-23.5 L-12.9,-16.6 L-0.3,-26.0" fill="none" stroke="#2b2b2b" stroke-width="0.55"/>
<polyline points="-26.8,-42.7 -12.9,-35.8 -0.3,-45.2" fill="none" stroke="#2b2b2b" stroke-width="0.75" stroke-linejoin="round" stroke-linecap="round" />
<polyline points="-12.9,-35.8 -12.9,-15.4" fill="none" stroke="#2b2b2b" stroke-width="0.75" stroke-linejoin="round" stroke-linecap="round" />
<polyline points="-20.5,-47.4 -6.6,-40.5 -6.6,-20.1" fill="none" stroke="#2b2b2b" stroke-width="0.6" stroke-linejoin="round" stroke-linecap="round" />
<polyline points="-23.6,-45.0 -16.7,-41.6 -13.6,-44.0" fill="none" stroke="#2b2b2b" stroke-width="0.45" stroke-linejoin="round" stroke-linecap="round" />
<circle cx="-16.7" cy="-41.6" r="0.9" fill="#e3c230" stroke="#2b2b2b" stroke-width="0.4"/>
<polyline points="-17.4,-49.8 -10.4,-46.3 -7.2,-48.7" fill="none" stroke="#2b2b2b" stroke-width="0.45" stroke-linejoin="round" stroke-linecap="round" />
<circle cx="-10.4" cy="-46.3" r="0.9" fill="#e3c230" stroke="#2b2b2b" stroke-width="0.4"/>
<polygon points="-45.4,-32.1 -12.8,-13.8 -12.8,-7.6 -45.4,-26.6" fill="#2196e6" stroke="#0d3b66" stroke-width="0.9" stroke-linejoin="round" />
<polygon points="-12.8,-27.0 5.6,-39.5 11.7,-37.2 -5.6,-25.8" fill="#2a9cea" stroke="#0d3b66" stroke-width="0.9" stroke-linejoin="round" />
<polygon points="-12.8,-6.6 -12.8,-27.0 -5.6,-25.8 0.0,-14.8 0.0,0.0" fill="#2196e6" stroke="#0d3b66" stroke-width="0.9" stroke-linejoin="round" />
<polygon points="0.0,-14.8 -5.6,-25.8 11.7,-37.2 18.9,-25.0" fill="#2a9cea" stroke="#0d3b66" stroke-width="0.9" stroke-linejoin="round" />
<polygon points="0.0,-14.8 18.9,-25.0 18.9,-10.7 0.0,0.0" fill="#2a9cea" stroke="#0d3b66" stroke-width="0.9" stroke-linejoin="round" />
<polygon points="2.0,-16.6 -3.0,-23.6 11.2,-33.2 16.3,-24.4" fill="#7cc4f0" stroke="#0d3b66" stroke-width="0.7200000000000001" stroke-linejoin="round" />
<polygon points="-11.5,-24.0 -5.4,-22.6 -1.6,-14.8 -11.5,-18.0" fill="#7cc4f0" stroke="#0d3b66" stroke-width="0.7200000000000001" stroke-linejoin="round" />
<ellipse cx="3.4" cy="-9.9" rx="1.2" ry="1.7" fill="#f2e23a" stroke="#0d3b66" stroke-width="0.7200000000000001"/>
<ellipse cx="16.3" cy="-17.3" rx="1.2" ry="1.7" fill="#f2e23a" stroke="#0d3b66" stroke-width="0.7200000000000001"/>
</g>
<polygon points="796.1,514.1 833.1,536.1 833.1,493.8 796.1,471.8" fill="#d6a0e8" stroke="#3d2f45" stroke-width="1" stroke-linejoin="round" />
<polygon points="833.1,536.1 870.1,514.4 870.1,472.1 833.1,493.8" fill="#d9a2ea" stroke="#3d2f45" stroke-width="1" stroke-linejoin="round" />
<polygon points="796.1,471.8 833.1,493.8 870.1,472.1 833.1,450.8" fill="#dba6ec" stroke="#3d2f45" stroke-width="1" stroke-linejoin="round" />
<polygon points="842.2,510.4 861.2,499.6 861.2,519.6 842.2,530.6" fill="#62b5e8" stroke="#0d3b66" stroke-width="0.9" stroke-linejoin="round" />
<polyline points="851.7,505.0 851.7,525.1" fill="none" stroke="#0d3b66" stroke-width="0.9" stroke-linejoin="round" stroke-linecap="round" />
<path d="M873.4,524.8 C870.7,527.2 872.0,531.0 871.8,533.5 C871.6,536.1 872.5,538.2 872.3,540.1 C872.2,542.0 871.7,543.9 870.9,545.0 C870.1,546.1 867.3,545.9 867.4,546.6 C867.6,547.3 870.3,548.6 871.8,549.3 C873.2,550.0 875.1,549.6 876.1,551.0 C877.1,552.3 876.7,555.3 877.8,557.5 C878.8,559.7 881.3,563.7 882.7,564.0 C884.0,564.4 884.6,560.9 885.9,559.7 C887.2,558.4 888.8,556.8 890.3,556.4 C891.7,556.0 892.8,556.8 894.6,557.5 C896.4,558.2 899.1,560.0 901.2,560.7 C903.2,561.5 906.6,562.6 907.1,561.8 C907.7,561.1 904.7,558.2 904.4,556.4 C904.1,554.6 904.2,552.0 905.5,551.0 C906.8,549.9 911.7,550.8 912.0,549.9 C912.4,549.0 908.9,547.3 907.7,545.5 C906.5,543.7 905.7,541.2 905.0,539.0 C904.2,536.8 903.7,534.8 903.3,532.4 C903.0,530.1 905.3,527.0 902.8,524.8 C900.2,522.7 893.0,519.4 888.1,519.4 C883.2,519.4 876.1,522.5 873.4,524.8Z" fill="#f67a55" stroke="#4a2408" stroke-width="1.2" stroke-linejoin="round" stroke-linecap="round" />
<path d="M867.9,546.8 C868.5,547.1 870.5,548.2 871.8,548.8 C873.1,549.3 875.0,549.9 875.7,550.1" fill="none" stroke="#fde3d2" stroke-width="1.0" stroke-linejoin="round" stroke-linecap="round" />
<path d="M882.7,563.6 C883.1,562.9 884.4,560.6 885.5,559.4 C886.6,558.3 888.7,557.1 889.4,556.6" fill="none" stroke="#fde3d2" stroke-width="1.0" stroke-linejoin="round" stroke-linecap="round" />
<path d="M906.6,561.4 C906.2,560.7 904.5,558.5 904.2,556.9 C903.9,555.4 904.7,553.0 904.9,552.3" fill="none" stroke="#fde3d2" stroke-width="1.0" stroke-linejoin="round" stroke-linecap="round" />
<path d="M911.6,549.9 C911.0,549.3 909.2,548.0 908.2,546.6 C907.3,545.1 906.1,542.1 905.7,541.2" fill="none" stroke="#fde3d2" stroke-width="1.0" stroke-linejoin="round" stroke-linecap="round" />
<circle cx="879.9" cy="535.7" r="1.1" fill="#3a1208"/>
<circle cx="897.6" cy="535.5" r="1.1" fill="#3a1208"/>
<polyline points="887.6,540.1 890.1,540.1" fill="none" stroke="#3a1208" stroke-width="0.8" stroke-linejoin="round" stroke-linecap="round" />
<path d="M877.2,511.2 C875.9,510.0 872.0,508.6 869.6,508.3 C867.2,507.9 864.5,508.5 863.1,509.0 C861.6,509.6 860.9,510.6 860.7,511.6 C860.4,512.5 860.8,514.1 861.8,514.6 C862.7,515.1 864.7,514.8 866.3,514.6 C868.0,514.4 870.0,513.3 871.8,513.5 C873.6,513.7 876.3,516.3 877.2,515.9 C878.1,515.5 878.5,512.5 877.2,511.2Z" fill="#3a3a3a" stroke="#111" stroke-width="0.8" stroke-linejoin="round" stroke-linecap="round" />
<path d="M905.0,509.6 C905.6,509.0 910.0,510.3 912.0,511.6 C914.0,512.8 915.8,515.2 916.9,517.2 C918.1,519.2 918.8,521.6 918.8,523.7 C918.7,525.8 917.6,528.7 916.6,529.8 C915.7,531.0 913.9,531.1 913.1,530.5 C912.4,529.8 912.3,527.7 912.0,525.9 C911.8,524.1 912.2,521.4 911.6,519.6 C911.0,517.8 909.3,516.9 908.2,515.3 C907.1,513.6 904.3,510.2 905.0,509.6Z" fill="#3a3a3a" stroke="#111" stroke-width="0.8" stroke-linejoin="round" stroke-linecap="round" />
<polygon points="870.1,529.2 873.1,521.6 876.1,513.9 881.6,508.0 890.3,505.2 899.0,506.3 905.5,510.1 908.3,518.3 907.9,527.0 906.6,532.0 902.0,531.1 901.8,525.9 900.3,521.8 897.0,518.1 895.7,521.1 894.0,520.5 882.7,520.9 882.0,522.9 880.5,520.9 875.7,521.6 873.5,525.9 872.3,530.9" fill="#3a3a3a" stroke="#111" stroke-width="0.8" stroke-linejoin="round" />
<polyline points="886.5,500.9 888.1,505.2" fill="none" stroke="#111" stroke-width="0.8" stroke-linejoin="round" stroke-linecap="round" />
<polyline points="891.4,500.2 891.4,505.0" fill="none" stroke="#111" stroke-width="0.8" stroke-linejoin="round" stroke-linecap="round" />
<polyline points="895.3,500.9 894.1,505.2" fill="none" stroke="#111" stroke-width="0.8" stroke-linejoin="round" stroke-linecap="round" />
<polygon points="897.9,502.8 904.1,496.3 902.9,501.3 907.9,502.0 905.1,507.2 904.4,503.9 900.9,503.5" fill="#f2d53a" stroke="#6b5200" stroke-width="0.7" stroke-linejoin="round" />
<g transform="translate(626.8,622.0) scale(1,1)">
<polygon points="-25.5,-34.0 -34.5,-31.0 -37.0,-24.5 -37.0,-19.5 -25.5,-13.5" fill="#ee5a5a" stroke="#6a1a1a" stroke-width="0.9" stroke-linejoin="round" />
<polygon points="-35.2,-24.6 -33.4,-29.6 -28.2,-31.4 -28.2,-25.6" fill="#9ad4f5" stroke="#6a1a1a" stroke-width="0.7" stroke-linejoin="round" />
<polyline points="-25.5,-35.5 -39.0,-30.5" fill="none" stroke="#333" stroke-width="0.9" stroke-linejoin="round" stroke-linecap="round" />
<polygon points="-25.5,-14.5 0.0,0.0 0.0,-22.5 -25.5,-37.0" fill="#f7c915" stroke="#6b4a00" stroke-width="1.0" stroke-linejoin="round" />
<polygon points="0.0,0.0 20.0,-11.8 20.0,-34.3 0.0,-22.5" fill="#f5c510" stroke="#6b4a00" stroke-width="1.0" stroke-linejoin="round" />
<polygon points="-25.5,-37.0 0.0,-22.5 20.0,-34.3 -5.5,-49.0" fill="#f8cc1c" stroke="#6b4a00" stroke-width="1.0" stroke-linejoin="round" />
<ellipse cx="-29.8" cy="-16.0" rx="3.5" ry="4.6" fill="#3b3b3b" stroke="#222" stroke-width="0.8" transform="rotate(20 -29.8 -16.0)"/>
<ellipse cx="-10.2" cy="-4.8" rx="3.5" ry="4.6" fill="#3b3b3b" stroke="#222" stroke-width="0.8" transform="rotate(20 -10.2 -4.8)"/>
</g>
<polygon points="649.6,669.0 686.6,691.0 686.6,648.7 649.6,626.7" fill="#d6a0e8" stroke="#3d2f45" stroke-width="1" stroke-linejoin="round" />
<polygon points="686.6,691.0 723.6,669.3 723.6,627.0 686.6,648.7" fill="#d9a2ea" stroke="#3d2f45" stroke-width="1" stroke-linejoin="round" />
<polygon points="649.6,626.7 686.6,648.7 723.6,627.0 686.6,605.7" fill="#dba6ec" stroke="#3d2f45" stroke-width="1" stroke-linejoin="round" />
<polygon points="695.7,665.3 714.7,654.5 714.7,674.5 695.7,685.5" fill="#62b5e8" stroke="#0d3b66" stroke-width="0.9" stroke-linejoin="round" />
<polyline points="705.2,659.9 705.2,680.0" fill="none" stroke="#0d3b66" stroke-width="0.9" stroke-linejoin="round" stroke-linecap="round" />
<path d="M722.4,660.6 C719.2,662.7 721.6,668.0 721.3,670.9 C721.1,673.9 721.4,677.0 720.8,678.3 C720.1,679.7 718.7,679.1 717.5,679.1 C716.3,679.1 713.9,677.7 713.7,678.5 C713.5,679.4 715.2,682.2 716.4,684.0 C717.7,685.8 719.8,688.1 721.3,689.4 C722.9,690.8 725.0,690.7 725.7,692.2 C726.4,693.6 725.4,696.4 725.7,698.1 C726.0,699.9 726.7,701.2 727.3,702.5 C728.0,703.8 728.3,706.5 729.5,706.0 C730.7,705.4 732.7,700.8 734.4,699.2 C736.1,697.6 738.2,696.9 739.8,696.5 C741.5,696.1 742.4,696.4 744.2,697.1 C746.0,697.7 748.8,699.2 750.7,700.3 C752.6,701.4 755.0,703.9 755.6,703.6 C756.3,703.2 754.8,699.8 754.5,698.1 C754.3,696.5 753.9,694.8 754.0,693.8 C754.1,692.8 754.2,692.4 755.3,692.2 C756.4,691.9 758.7,692.5 760.5,692.2 C762.4,691.8 766.5,691.0 766.5,690.0 C766.5,689.0 762.1,687.7 760.5,686.2 C759.0,684.6 757.7,683.1 757.3,680.7 C756.8,678.4 757.6,674.7 757.8,672.0 C758.0,669.3 761.2,666.7 758.3,664.4 C755.5,662.1 746.9,659.0 740.9,658.4 C734.9,657.8 725.7,658.5 722.4,660.6Z" fill="#f67a55" stroke="#4a2408" stroke-width="1.2" stroke-linejoin="round" stroke-linecap="round" />
<circle cx="729.8" cy="673.1" r="1.15" fill="#8a1010"/>
<circle cx="747.2" cy="674.2" r="1.15" fill="#8a1010"/>
<polyline points="736.4,677.8 738.5,677.8" fill="none" stroke="#8a1010" stroke-width="1.0" stroke-linejoin="round" stroke-linecap="round" />
<path d="M714.6,679.0 C715.0,679.8 715.8,682.4 717.0,684.0 C718.1,685.6 720.6,687.8 721.3,688.6" fill="none" stroke="#fde3d2" stroke-width="1.0" stroke-linejoin="round" stroke-linecap="round" />
<path d="M729.6,705.2 C730.3,704.3 732.0,700.8 733.5,699.4 C735.0,698.0 737.9,697.3 738.7,696.8" fill="none" stroke="#fde3d2" stroke-width="1.0" stroke-linejoin="round" stroke-linecap="round" />
<path d="M755.3,702.9 C755.1,702.1 754.4,699.6 754.2,698.1 C754.0,696.7 754.2,695.0 754.2,694.3" fill="none" stroke="#fde3d2" stroke-width="1.0" stroke-linejoin="round" stroke-linecap="round" />
<path d="M765.7,690.1 C764.9,690.3 762.4,691.2 760.7,691.4 C759.1,691.6 756.7,691.4 755.9,691.4" fill="none" stroke="#fde3d2" stroke-width="1.0" stroke-linejoin="round" stroke-linecap="round" />
<path d="M726.2,651.5 C725.6,650.4 727.0,648.3 728.4,647.0 C729.8,645.6 732.1,644.3 734.4,643.5 C736.7,642.7 739.5,642.3 742.0,642.4 C744.6,642.5 747.5,643.1 749.6,644.3 C751.8,645.4 753.7,647.2 755.1,649.2 C756.5,651.1 757.5,653.4 758.1,656.2 C758.7,659.1 759.2,665.2 758.6,666.2 C757.9,667.3 755.8,663.9 754.0,662.8 C752.1,661.6 749.6,660.4 747.5,659.5 C745.3,658.6 743.5,658.2 740.9,657.3 C738.4,656.4 734.7,655.0 732.2,654.1 C729.8,653.1 726.9,652.7 726.2,651.5Z" fill="#2a90e2" stroke="#0d3b66" stroke-width="1.0" stroke-linejoin="round" stroke-linecap="round" />
<path d="M717.0,655.1 C717.5,654.4 718.2,653.5 719.7,653.0 C721.1,652.4 723.4,651.7 725.7,651.9 C728.0,652.1 730.7,653.1 733.3,654.1 C735.9,655.0 740.6,656.7 741.1,657.4 C741.7,658.2 738.6,658.0 736.6,658.4 C734.5,658.8 731.4,659.3 728.9,659.8 C726.5,660.3 723.7,661.3 721.9,661.2 C720.1,661.2 719.0,660.3 718.1,659.6 C717.2,658.9 716.6,658.1 716.4,657.3 C716.2,656.6 716.4,655.9 717.0,655.1Z" fill="#7cc4f0" stroke="#0d3b66" stroke-width="1.0" stroke-linejoin="round" stroke-linecap="round" />
<path d="M-20.0,118.3 C-16.7,118.3 -8.8,118.2 0.0,118.1 C8.8,117.9 21.8,117.1 32.7,117.4 C43.6,117.7 54.4,118.2 65.3,119.7 C76.2,121.2 87.1,123.2 98.0,126.2 C108.9,129.2 120.9,133.6 130.7,137.7 C140.5,141.8 149.2,145.8 156.8,150.7 C164.4,155.6 170.7,161.1 176.4,167.1 C182.1,173.1 187.6,180.2 191.1,186.7 C194.6,193.2 196.4,200.3 197.7,206.3 C199.0,212.3 199.0,216.1 198.7,222.6 C198.4,229.1 197.8,237.9 196.0,245.5 C194.2,253.1 191.7,261.0 187.9,268.4 C184.1,275.8 178.9,283.3 173.2,289.6 C167.5,295.9 156.9,303.3 153.6,306.0 L162.4,335.4 L140.5,314.1 C136.2,315.5 124.2,320.1 114.4,322.3 C104.6,324.5 95.3,325.9 81.7,327.2 C68.1,328.5 46.3,329.8 32.7,330.4 C19.1,331.0 8.8,330.6 0.0,330.6 C-8.8,330.6 -16.7,330.6 -20.0,330.6 Z" fill="#fdead8" stroke="#f1a122" stroke-width="2.8" stroke-linejoin="round"/>
<path d="M119.3,222.9 C120.6,222.4 125.0,219.9 127.3,220.1 C129.6,220.3 131.8,222.7 133.2,224.0 C134.5,225.3 135.0,227.3 135.4,227.9" fill="none" stroke="#4a2408" stroke-width="3.4" stroke-linecap="round"/>
<path d="M119.3,222.9 C120.6,222.4 125.0,219.9 127.3,220.1 C129.6,220.3 131.8,222.7 133.2,224.0 C134.5,225.3 135.0,227.3 135.4,227.9" fill="none" stroke="#f9b89e" stroke-width="2.2" stroke-linecap="round"/>
<path d="M94.7,174.4 C89.8,174.3 84.5,174.3 80.5,176.6 C76.5,178.8 73.0,183.3 70.7,188.1 C68.5,192.9 67.5,199.9 67.0,205.5 C66.6,211.1 67.4,217.7 67.9,221.8 C68.4,225.9 70.7,228.2 70.1,230.1 C69.5,232.0 66.3,232.6 64.2,233.4 C62.1,234.1 58.0,233.5 57.7,234.4 C57.3,235.3 59.8,237.7 62.0,238.8 C64.2,239.9 70.0,239.0 70.7,241.0 C71.5,242.9 67.5,247.3 66.4,250.5 C65.2,253.8 63.4,257.7 63.8,260.6 C64.1,263.4 66.7,266.1 68.6,267.5 C70.4,269.0 73.7,270.3 75.1,269.3 C76.4,268.2 75.4,263.6 76.6,261.0 C77.8,258.4 79.8,255.2 82.3,253.6 C84.7,252.0 88.1,251.2 91.4,251.4 C94.7,251.6 99.2,253.1 102.3,254.9 C105.4,256.7 107.9,260.0 109.9,262.1 C111.9,264.1 112.7,266.5 114.3,267.1 C115.8,267.6 118.2,266.9 119.3,265.3 C120.3,263.8 121.1,260.3 120.8,257.7 C120.4,255.2 118.1,252.2 117.1,250.1 C116.1,248.0 114.1,246.3 114.9,245.3 C115.7,244.3 119.8,243.5 121.9,244.0 C123.9,244.5 126.2,246.9 127.3,248.4 C128.5,249.8 128.1,253.2 128.8,252.7 C129.6,252.3 131.9,248.4 131.9,245.8 C131.9,243.1 130.4,239.4 128.8,237.1 C127.2,234.7 124.1,233.0 122.3,231.8 C120.5,230.7 118.0,231.8 118.0,230.1 C117.9,228.4 121.0,225.9 121.9,221.8 C122.7,217.7 123.5,211.0 123.2,205.5 C122.8,200.0 121.9,193.5 119.7,188.7 C117.5,184.0 114.1,179.6 109.9,177.2 C105.7,174.8 99.6,174.5 94.7,174.4Z" fill="#f67a55" stroke="#4a2408" stroke-width="1.1" stroke-linejoin="round" stroke-linecap="round" />
<path d="M70.1,230.1 C71.8,231.1 76.6,234.7 80.5,236.0 C84.4,237.2 89.2,237.7 93.6,237.5 C97.9,237.2 102.6,235.7 106.6,234.4 C110.7,233.2 116.1,230.8 118.0,230.1" fill="none" stroke="#4a2408" stroke-width="0.9" stroke-linejoin="round" stroke-linecap="round" />
<path d="M75.1,268.6 C75.3,267.4 75.2,263.8 76.2,261.4 C77.1,259.1 80.2,255.6 81.0,254.5" fill="none" stroke="#fde3d2" stroke-width="1.2" stroke-linejoin="round" stroke-linecap="round" />
<path d="M128.4,251.8 C128.8,250.9 130.6,248.4 130.6,246.2 C130.6,244.0 128.8,240.0 128.4,238.8" fill="none" stroke="#fde3d2" stroke-width="1.2" stroke-linejoin="round" stroke-linecap="round" />
<polyline points="87.1,169.6 91.4,175.2" fill="none" stroke="#4a2408" stroke-width="0.9" stroke-linejoin="round" stroke-linecap="round" />
<polyline points="94.7,168.3 94.7,174.4" fill="none" stroke="#4a2408" stroke-width="0.9" stroke-linejoin="round" stroke-linecap="round" />
<polyline points="100.5,169.6 97.5,175.2" fill="none" stroke="#4a2408" stroke-width="0.9" stroke-linejoin="round" stroke-linecap="round" />
<circle cx="78.3" cy="218.1" r="1.3" fill="#3a1208"/>
<circle cx="106.6" cy="218.1" r="1.3" fill="#3a1208"/>
<polyline points="89.9,223.3 95.1,223.3" fill="none" stroke="#3a1208" stroke-width="0.9" stroke-linejoin="round" stroke-linecap="round" />
<circle cx="53.3" cy="212.0" r="5.6" fill="none" stroke="#6b5200" stroke-width="4.2"/>
<circle cx="53.3" cy="212.0" r="5.6" fill="none" stroke="#e9cb3a" stroke-width="2.8"/>
<polygon points="52.2,219.2 56.1,219.2 57.0,225.1 62.0,224.6 62.2,227.5 57.5,227.9 57.7,230.1 61.4,229.9 61.6,232.7 57.9,233.1 57.9,235.3 54.0,235.3" fill="#e9cb3a" stroke="#6b5200" stroke-width="0.8" stroke-linejoin="round" />
<path d="M131.22959738846572,176.87943416757346 Q132.02959738846573,182.27943416757344 136.82959738846571,183.07943416757345 Q132.02959738846573,183.87943416757346 131.22959738846572,189.27943416757344 Q130.4295973884657,183.87943416757346 125.62959738846573,183.07943416757345 Q130.4295973884657,182.27943416757344 131.22959738846572,176.87943416757346Z" fill="#efd94a" stroke="#4a4a20" stroke-width="0.8"/>
<g transform="translate(139.3,232) rotate(-32)"><rect x="-7" y="-4.6" width="14" height="9.2" rx="1" fill="#fff" stroke="#555" stroke-width="0.8"/><rect x="-5" y="-2.8" width="8" height="1.6" fill="#444"/><line x1="-5" y1="1" x2="4" y2="1" stroke="#999" stroke-width="0.6" stroke-dasharray="1 1"/></g>
<text x="18.0" y="143.2" font-family="&quot;Liberation Sans&quot;, sans-serif" font-size="15.5" font-weight="normal" fill="#f09a28" textLength="47.5" lengthAdjust="spacing" stroke="#f09a28" stroke-width="0.5">USER</text>
<text x="14.1" y="194.6" font-family="&quot;Liberation Sans&quot;, sans-serif" font-size="9.2" font-weight="normal" fill="#222" textLength="48.6" lengthAdjust="spacing" >Private Key</text>
<text x="136.0" y="256.6" font-family="&quot;Liberation Sans&quot;, sans-serif" font-size="9.2" font-weight="normal" fill="#222" textLength="44.6" lengthAdjust="spacing" >Public Key</text>
<text x="21.1" y="290.4" font-family="&quot;Liberation Sans&quot;, sans-serif" font-size="12.2" font-weight="normal" fill="#222" textLength="118.2" lengthAdjust="spacing" >Having a key pair and</text>
<text x="21.1" y="304.6" font-family="&quot;Liberation Sans&quot;, sans-serif" font-size="12.2" font-weight="normal" fill="#222" textLength="105.1" lengthAdjust="spacing" >enjoying the Nostr.</text>
<clipPath id="cr"><path d="M676.0,-14.0 C674.6,-11.7 671.1,-5.4 667.8,0.0 C664.5,5.4 659.7,11.9 656.2,18.5 C652.7,25.1 649.9,30.8 647.0,39.3 C644.1,47.8 641.0,59.8 638.9,69.4 C636.8,79.0 635.4,87.8 634.3,97.1 C633.1,106.3 632.5,116.4 632.0,124.9 C631.5,133.4 631.4,141.3 631.5,148.0 C631.6,154.7 631.9,159.2 632.7,165.0 C633.6,170.8 635.0,176.2 636.6,183.1 C638.2,190.0 640.3,198.9 642.4,206.2 C644.5,213.5 646.4,219.7 649.3,227.0 C652.2,234.3 655.9,242.9 659.7,250.2 C663.6,257.5 667.6,263.9 672.4,271.0 C677.2,278.1 685.9,289.3 688.6,293.0 L643.5,313.8 L703.5,306.2 C706.2,308.4 712.0,313.9 719.6,319.6 C727.2,325.3 739.3,334.4 749.2,340.3 C759.1,346.2 768.9,350.8 778.8,355.1 C788.7,359.5 798.5,363.4 808.4,366.4 C818.3,369.4 828.1,371.2 838.0,372.9 C847.9,374.6 857.7,375.5 867.6,376.4 C877.5,377.3 887.3,377.9 897.2,378.2 C907.1,378.5 916.9,378.6 926.8,378.2 C936.6,377.8 947.4,376.7 956.3,375.8 C965.2,374.9 973.4,373.8 980.0,372.9 C986.6,372.0 993.3,370.9 996.0,370.5 L996,-14 Z"/></clipPath>
<path d="M676.0,-14.0 C674.6,-11.7 671.1,-5.4 667.8,0.0 C664.5,5.4 659.7,11.9 656.2,18.5 C652.7,25.1 649.9,30.8 647.0,39.3 C644.1,47.8 641.0,59.8 638.9,69.4 C636.8,79.0 635.4,87.8 634.3,97.1 C633.1,106.3 632.5,116.4 632.0,124.9 C631.5,133.4 631.4,141.3 631.5,148.0 C631.6,154.7 631.9,159.2 632.7,165.0 C633.6,170.8 635.0,176.2 636.6,183.1 C638.2,190.0 640.3,198.9 642.4,206.2 C644.5,213.5 646.4,219.7 649.3,227.0 C652.2,234.3 655.9,242.9 659.7,250.2 C663.6,257.5 667.6,263.9 672.4,271.0 C677.2,278.1 685.9,289.3 688.6,293.0 L643.5,313.8 L703.5,306.2 C706.2,308.4 712.0,313.9 719.6,319.6 C727.2,325.3 739.3,334.4 749.2,340.3 C759.1,346.2 768.9,350.8 778.8,355.1 C788.7,359.5 798.5,363.4 808.4,366.4 C818.3,369.4 828.1,371.2 838.0,372.9 C847.9,374.6 857.7,375.5 867.6,376.4 C877.5,377.3 887.3,377.9 897.2,378.2 C907.1,378.5 916.9,378.6 926.8,378.2 C936.6,377.8 947.4,376.7 956.3,375.8 C965.2,374.9 973.4,373.8 980.0,372.9 C986.6,372.0 993.3,370.9 996.0,370.5 L996,-14 Z" fill="#dcedf8"/>
<g clip-path="url(#cr)">
<polyline points="808.5,18.0 808.5,113.0" fill="none" stroke="#2b2b2b" stroke-width="0.9" stroke-linejoin="round" stroke-linecap="round" />
<polyline points="808.5,113.0 630.0,212.5" fill="none" stroke="#2b2b2b" stroke-width="0.9" stroke-linejoin="round" stroke-linecap="round" />
<polyline points="808.5,113.0 990.0,212.0" fill="none" stroke="#2b2b2b" stroke-width="0.9" stroke-linejoin="round" stroke-linecap="round" />
<polygon points="856.9,34.4 943.1,82.8 943.1,132.6 856.9,84.5" fill="#a64fcb" stroke="#3a1450" stroke-width="0.9" stroke-linejoin="round" />
<polygon points="862.3,44.5 937.7,86.1 937.7,123.2 862.3,81.2" fill="#3b3b3b" stroke="#1a1a1a" stroke-width="0.8" stroke-linejoin="round" />
<g transform="translate(866.5,55.5) skewY(29.3)"><text x="0.0" y="7.5" font-family="&quot;Liberation Mono&quot;, monospace" font-size="9.5" font-weight="bold" fill="#e6c83a" >REQ</text><text x="19.0" y="7.5" font-family="&quot;Liberation Mono&quot;, monospace" font-size="7.6" font-weight="bold" fill="#e6c83a" textLength="37.0" lengthAdjust="spacing" >received!</text></g>
<g transform="translate(866.5,72.5) skewY(29.3)"><text x="0.0" y="7.5" font-family="&quot;Liberation Mono&quot;, monospace" font-size="6.6" font-weight="bold" fill="#e6c83a" textLength="25.0" lengthAdjust="spacing" >id:......</text><text x="30.0" y="7.5" font-family="&quot;Liberation Mono&quot;, monospace" font-size="6.6" font-weight="bold" fill="#e6c83a" textLength="41.0" lengthAdjust="spacing" >filter: kind</text></g>
<polyline points="944.2,65.7 944.7,73.9" fill="none" stroke="#444" stroke-width="0.9" stroke-linejoin="round" stroke-linecap="round" />
<polyline points="954.4,69.8 950.4,76.8" fill="none" stroke="#444" stroke-width="0.9" stroke-linejoin="round" stroke-linecap="round" />
<polyline points="963.0,79.1 955.7,82.0" fill="none" stroke="#444" stroke-width="0.9" stroke-linejoin="round" stroke-linecap="round" />
<polygon points="649.2,92.2 662.0,98.4 662.0,110.4 649.2,104.2" fill="#f7c915" stroke="#6b4a00" stroke-width="0.9" stroke-linejoin="round" />
<polygon points="662.0,98.4 698.2,76.9 698.2,88.9 662.0,110.4" fill="#f3c00e" stroke="#6b4a00" stroke-width="0.9" stroke-linejoin="round" />
<polygon points="649.2,92.2 662.0,98.4 698.2,76.9 685.4,70.7" fill="#f9d030" stroke="#6b4a00" stroke-width="0.9" stroke-linejoin="round" />
<polygon points="669.0,100.5 690.0,88.0 690.0,95.0 669.0,107.5" fill="#8a6a00" stroke="#6b4a00" stroke-width="0.6" stroke-linejoin="round" />
<path d="M671.3,100.5 L689,90.5 Q697,98 697.2,107.1 L680.8,115.8 Q679,106 671.3,100.5Z" fill="#fff" stroke="#2b2b2b" stroke-width="0.8"/>
<polygon points="782.6,139.2 808.8,154.7 828.0,143.4 828.0,66.4 801.9,50.9 782.6,62.2" fill="#ffffff" stroke="#2b2b2b" stroke-width="0.9" stroke-linejoin="round" />
<path d="M782.6,64.9 L808.8,80.4 L828.0,69.1 M782.6,67.7 L808.8,83.2 L828.0,71.9 M782.6,70.4 L808.8,85.9 L828.0,74.6 M782.6,73.2 L808.8,88.7 L828.0,77.4 M782.6,75.9 L808.8,91.4 L828.0,80.1 M782.6,78.7 L808.8,94.2 L828.0,82.9 M782.6,81.4 L808.8,96.9 L828.0,85.6 M782.6,84.2 L808.8,99.7 L828.0,88.4 M782.6,86.9 L808.8,102.4 L828.0,91.1 M782.6,89.7 L808.8,105.2 L828.0,93.9 M782.6,92.4 L808.8,107.9 L828.0,96.6 M782.6,95.2 L808.8,110.7 L828.0,99.4 M782.6,97.9 L808.8,113.4 L828.0,102.1 M782.6,100.7 L808.8,116.2 L828.0,104.9 M782.6,103.4 L808.8,118.9 L828.0,107.6 M782.6,106.2 L808.8,121.7 L828.0,110.4 M782.6,108.9 L808.8,124.4 L828.0,113.1 M782.6,111.7 L808.8,127.2 L828.0,115.9 M782.6,114.4 L808.8,129.9 L828.0,118.6 M782.6,117.2 L808.8,132.7 L828.0,121.4 M782.6,119.9 L808.8,135.4 L828.0,124.1 M782.6,122.7 L808.8,138.2 L828.0,126.9 M782.6,125.4 L808.8,140.9 L828.0,129.6 M782.6,128.2 L808.8,143.7 L828.0,132.4 M782.6,130.9 L808.8,146.4 L828.0,135.1 M782.6,133.7 L808.8,149.2 L828.0,137.9 M782.6,136.4 L808.8,151.9 L828.0,140.6" fill="none" stroke="#2b2b2b" stroke-width="0.95"/>
<polyline points="782.6,62.2 808.8,77.7 828.0,66.4" fill="none" stroke="#2b2b2b" stroke-width="0.9" stroke-linejoin="round" stroke-linecap="round" />
<polyline points="808.8,77.7 808.8,154.7" fill="none" stroke="#2b2b2b" stroke-width="0.9" stroke-linejoin="round" stroke-linecap="round" />
<polygon points="762.9,150.5 789.0,166.0 808.3,154.7 808.3,48.7 782.2,33.2 762.9,44.5" fill="#ffffff" stroke="#2b2b2b" stroke-width="0.9" stroke-linejoin="round" />
<path d="M762.9,47.2 L789.0,62.8 L808.3,51.5 M762.9,50.0 L789.0,65.5 L808.3,54.2 M762.9,52.8 L789.0,68.2 L808.3,57.0 M762.9,55.5 L789.0,71.0 L808.3,59.7 M762.9,58.2 L789.0,73.8 L808.3,62.5 M762.9,61.0 L789.0,76.5 L808.3,65.2 M762.9,63.8 L789.0,79.2 L808.3,68.0 M762.9,66.5 L789.0,82.0 L808.3,70.7 M762.9,69.2 L789.0,84.8 L808.3,73.5 M762.9,72.0 L789.0,87.5 L808.3,76.2 M762.9,74.8 L789.0,90.2 L808.3,79.0 M762.9,77.5 L789.0,93.0 L808.3,81.7 M762.9,80.2 L789.0,95.8 L808.3,84.5 M762.9,83.0 L789.0,98.5 L808.3,87.2 M762.9,85.8 L789.0,101.2 L808.3,90.0 M762.9,88.5 L789.0,104.0 L808.3,92.7 M762.9,91.2 L789.0,106.8 L808.3,95.5 M762.9,94.0 L789.0,109.5 L808.3,98.2 M762.9,96.8 L789.0,112.2 L808.3,101.0 M762.9,99.5 L789.0,115.0 L808.3,103.7 M762.9,102.2 L789.0,117.8 L808.3,106.5 M762.9,105.0 L789.0,120.5 L808.3,109.2 M762.9,107.8 L789.0,123.2 L808.3,112.0 M762.9,110.5 L789.0,126.0 L808.3,114.7 M762.9,113.2 L789.0,128.8 L808.3,117.5 M762.9,116.0 L789.0,131.5 L808.3,120.2 M762.9,118.8 L789.0,134.2 L808.3,123.0 M762.9,121.5 L789.0,137.0 L808.3,125.7 M762.9,124.2 L789.0,139.8 L808.3,128.4 M762.9,127.0 L789.0,142.5 L808.3,131.2 M762.9,129.8 L789.0,145.2 L808.3,133.9 M762.9,132.5 L789.0,148.0 L808.3,136.7 M762.9,135.2 L789.0,150.8 L808.3,139.4 M762.9,138.0 L789.0,153.5 L808.3,142.2 M762.9,140.8 L789.0,156.2 L808.3,144.9 M762.9,143.5 L789.0,159.0 L808.3,147.7 M762.9,146.2 L789.0,161.8 L808.3,150.4 M762.9,149.0 L789.0,164.5 L808.3,153.2" fill="none" stroke="#2b2b2b" stroke-width="0.95"/>
<polyline points="762.9,44.5 789.0,60.0 808.3,48.7" fill="none" stroke="#2b2b2b" stroke-width="0.9" stroke-linejoin="round" stroke-linecap="round" />
<polyline points="789.0,60.0 789.0,166.0" fill="none" stroke="#2b2b2b" stroke-width="0.9" stroke-linejoin="round" stroke-linecap="round" />
<polygon points="743.1,161.8 769.2,177.3 788.5,166.0 788.5,90.0 762.4,74.5 743.1,85.8" fill="#ffffff" stroke="#2b2b2b" stroke-width="0.9" stroke-linejoin="round" />
<path d="M743.1,88.5 L769.2,104.0 L788.5,92.7 M743.1,91.3 L769.2,106.8 L788.5,95.5 M743.1,94.0 L769.2,109.5 L788.5,98.2 M743.1,96.8 L769.2,112.3 L788.5,101.0 M743.1,99.5 L769.2,115.0 L788.5,103.7 M743.1,102.3 L769.2,117.8 L788.5,106.5 M743.1,105.0 L769.2,120.5 L788.5,109.2 M743.1,107.8 L769.2,123.3 L788.5,112.0 M743.1,110.5 L769.2,126.0 L788.5,114.7 M743.1,113.3 L769.2,128.8 L788.5,117.5 M743.1,116.0 L769.2,131.5 L788.5,120.2 M743.1,118.8 L769.2,134.3 L788.5,123.0 M743.1,121.5 L769.2,137.0 L788.5,125.7 M743.1,124.3 L769.2,139.8 L788.5,128.5 M743.1,127.0 L769.2,142.5 L788.5,131.2 M743.1,129.8 L769.2,145.3 L788.5,134.0 M743.1,132.5 L769.2,148.0 L788.5,136.8 M743.1,135.3 L769.2,150.8 L788.5,139.5 M743.1,138.0 L769.2,153.5 L788.5,142.2 M743.1,140.8 L769.2,156.3 L788.5,145.0 M743.1,143.5 L769.2,159.0 L788.5,147.8 M743.1,146.3 L769.2,161.8 L788.5,150.5 M743.1,149.0 L769.2,164.5 L788.5,153.2 M743.1,151.8 L769.2,167.3 L788.5,156.0 M743.1,154.5 L769.2,170.0 L788.5,158.8 M743.1,157.3 L769.2,172.8 L788.5,161.5 M743.1,160.0 L769.2,175.5 L788.5,164.2" fill="none" stroke="#2b2b2b" stroke-width="0.95"/>
<polyline points="743.1,85.8 769.2,101.3 788.5,90.0" fill="none" stroke="#2b2b2b" stroke-width="0.9" stroke-linejoin="round" stroke-linecap="round" />
<polyline points="769.2,101.3 769.2,177.3" fill="none" stroke="#2b2b2b" stroke-width="0.9" stroke-linejoin="round" stroke-linecap="round" />
<polygon points="723.4,173.1 749.5,188.6 768.8,177.3 768.8,72.3 742.7,56.8 723.4,68.1" fill="#ffffff" stroke="#2b2b2b" stroke-width="0.9" stroke-linejoin="round" />
<path d="M723.4,70.8 L749.5,86.3 L768.8,75.0 M723.4,73.6 L749.5,89.1 L768.8,77.8 M723.4,76.3 L749.5,91.8 L768.8,80.5 M723.4,79.1 L749.5,94.6 L768.8,83.3 M723.4,81.8 L749.5,97.3 L768.8,86.0 M723.4,84.6 L749.5,100.1 L768.8,88.8 M723.4,87.3 L749.5,102.8 L768.8,91.5 M723.4,90.1 L749.5,105.6 L768.8,94.3 M723.4,92.8 L749.5,108.3 L768.8,97.0 M723.4,95.6 L749.5,111.1 L768.8,99.8 M723.4,98.3 L749.5,113.8 L768.8,102.5 M723.4,101.1 L749.5,116.6 L768.8,105.3 M723.4,103.8 L749.5,119.3 L768.8,108.0 M723.4,106.6 L749.5,122.1 L768.8,110.8 M723.4,109.3 L749.5,124.8 L768.8,113.5 M723.4,112.1 L749.5,127.6 L768.8,116.3 M723.4,114.8 L749.5,130.3 L768.8,119.0 M723.4,117.6 L749.5,133.1 L768.8,121.8 M723.4,120.3 L749.5,135.8 L768.8,124.5 M723.4,123.1 L749.5,138.6 L768.8,127.3 M723.4,125.8 L749.5,141.3 L768.8,130.1 M723.4,128.6 L749.5,144.1 L768.8,132.8 M723.4,131.3 L749.5,146.8 L768.8,135.6 M723.4,134.1 L749.5,149.6 L768.8,138.3 M723.4,136.8 L749.5,152.3 L768.8,141.1 M723.4,139.6 L749.5,155.1 L768.8,143.8 M723.4,142.3 L749.5,157.8 L768.8,146.6 M723.4,145.1 L749.5,160.6 L768.8,149.3 M723.4,147.8 L749.5,163.3 L768.8,152.1 M723.4,150.6 L749.5,166.1 L768.8,154.8 M723.4,153.3 L749.5,168.8 L768.8,157.6 M723.4,156.1 L749.5,171.6 L768.8,160.3 M723.4,158.8 L749.5,174.3 L768.8,163.1 M723.4,161.6 L749.5,177.1 L768.8,165.8 M723.4,164.3 L749.5,179.8 L768.8,168.6 M723.4,167.1 L749.5,182.6 L768.8,171.3 M723.4,169.8 L749.5,185.3 L768.8,174.1" fill="none" stroke="#2b2b2b" stroke-width="0.95"/>
<polyline points="723.4,68.1 749.5,83.6 768.8,72.3" fill="none" stroke="#2b2b2b" stroke-width="0.9" stroke-linejoin="round" stroke-linecap="round" />
<polyline points="749.5,83.6 749.5,188.6" fill="none" stroke="#2b2b2b" stroke-width="0.9" stroke-linejoin="round" stroke-linecap="round" />
<polygon points="703.6,184.4 729.8,199.9 749.0,188.6 749.0,148.6 722.9,133.1 703.6,144.4" fill="#ffffff" stroke="#2b2b2b" stroke-width="0.9" stroke-linejoin="round" />
<path d="M703.6,147.1 L729.8,162.6 L749.0,151.3 M703.6,149.9 L729.8,165.4 L749.0,154.1 M703.6,152.6 L729.8,168.1 L749.0,156.8 M703.6,155.4 L729.8,170.9 L749.0,159.6 M703.6,158.1 L729.8,173.6 L749.0,162.3 M703.6,160.9 L729.8,176.4 L749.0,165.1 M703.6,163.6 L729.8,179.1 L749.0,167.8 M703.6,166.4 L729.8,181.9 L749.0,170.6 M703.6,169.1 L729.8,184.6 L749.0,173.3 M703.6,171.9 L729.8,187.4 L749.0,176.1 M703.6,174.6 L729.8,190.1 L749.0,178.8 M703.6,177.4 L729.8,192.9 L749.0,181.6 M703.6,180.1 L729.8,195.6 L749.0,184.3 M703.6,182.9 L729.8,198.4 L749.0,187.1" fill="none" stroke="#2b2b2b" stroke-width="0.95"/>
<polyline points="703.6,144.4 729.8,159.9 749.0,148.6" fill="none" stroke="#2b2b2b" stroke-width="0.9" stroke-linejoin="round" stroke-linecap="round" />
<polyline points="729.8,159.9 729.8,199.9" fill="none" stroke="#2b2b2b" stroke-width="0.9" stroke-linejoin="round" stroke-linecap="round" />
<polygon points="683.9,195.7 710.0,211.2 729.3,199.9 729.3,145.9 703.2,130.4 683.9,141.7" fill="#ffffff" stroke="#2b2b2b" stroke-width="0.9" stroke-linejoin="round" />
<path d="M683.9,144.4 L710.0,159.9 L729.3,148.6 M683.9,147.2 L710.0,162.7 L729.3,151.4 M683.9,149.9 L710.0,165.4 L729.3,154.1 M683.9,152.7 L710.0,168.2 L729.3,156.9 M683.9,155.4 L710.0,170.9 L729.3,159.6 M683.9,158.2 L710.0,173.7 L729.3,162.4 M683.9,160.9 L710.0,176.4 L729.3,165.1 M683.9,163.7 L710.0,179.2 L729.3,167.9 M683.9,166.4 L710.0,181.9 L729.3,170.6 M683.9,169.2 L710.0,184.7 L729.3,173.4 M683.9,171.9 L710.0,187.4 L729.3,176.1 M683.9,174.7 L710.0,190.2 L729.3,178.9 M683.9,177.4 L710.0,192.9 L729.3,181.6 M683.9,180.2 L710.0,195.7 L729.3,184.4 M683.9,182.9 L710.0,198.4 L729.3,187.1 M683.9,185.7 L710.0,201.2 L729.3,189.9 M683.9,188.4 L710.0,203.9 L729.3,192.6 M683.9,191.2 L710.0,206.7 L729.3,195.4 M683.9,193.9 L710.0,209.4 L729.3,198.1" fill="none" stroke="#2b2b2b" stroke-width="0.95"/>
<polyline points="683.9,141.7 710.0,157.2 729.3,145.9" fill="none" stroke="#2b2b2b" stroke-width="0.9" stroke-linejoin="round" stroke-linecap="round" />
<polyline points="710.0,157.2 710.0,211.2" fill="none" stroke="#2b2b2b" stroke-width="0.9" stroke-linejoin="round" stroke-linecap="round" />
<path d="M684.9,123.4 L702.6,113.9 Q706,128 716.2,137 L698.5,146.6 Q689,137 684.9,123.4Z" fill="#fff" stroke="#2b2b2b" stroke-width="0.8"/>
<polygon points="871.4,191.0 919.0,162.4 919.0,165.4 871.4,194.0" fill="#666" stroke="#2b2b2b" stroke-width="0.7" stroke-linejoin="round" />
<rect x="914.3" y="164.5" width="4.2" height="13.5" fill="#bdbdbd" stroke="#2b2b2b" stroke-width="0.8"/>
<polygon points="845.7,175.7 893.3,148.1 919.0,162.4 871.4,191.0" fill="#adadad" stroke="#2b2b2b" stroke-width="0.8" stroke-linejoin="round" />
<polygon points="846.7,175.1 849.4,173.5 875.1,188.8 872.4,190.4" fill="#7a7a7a"/>
<polygon points="853.5,171.2 856.2,169.6 881.9,184.7 879.2,186.3" fill="#7a7a7a"/>
<polygon points="860.3,167.2 863.0,165.6 888.7,180.6 886.0,182.2" fill="#7a7a7a"/>
<polygon points="867.1,163.3 869.8,161.7 895.5,176.5 892.8,178.1" fill="#7a7a7a"/>
<polygon points="873.9,159.3 876.6,157.8 902.3,172.4 899.6,174.0" fill="#7a7a7a"/>
<polygon points="880.7,155.4 883.4,153.8 909.1,168.3 906.4,170.0" fill="#7a7a7a"/>
<polygon points="887.5,151.5 890.2,149.9 915.9,164.2 913.2,165.9" fill="#7a7a7a"/>
<polygon points="845.7,175.7 893.3,148.1 919.0,162.4 871.4,191.0" fill="none" stroke="#2b2b2b" stroke-width="0.8" stroke-linejoin="round" />
<polygon points="874.3,166.2 887.6,156.7 900.0,163.3 886.7,174.8" fill="#fff" stroke="#2b2b2b" stroke-width="0.7" stroke-linejoin="round" />
<polygon points="852.4,179.5 861.0,174.8 871.4,181.4 862.9,186.2" fill="#fff" stroke="#2b2b2b" stroke-width="0.7" stroke-linejoin="round" />
<g transform="translate(845.0,119.0) scale(1.0)">
<line x1="-6" y1="30" x2="-8" y2="38" stroke="#888" stroke-width="2.2"/>
<line x1="6" y1="31" x2="12" y2="38" stroke="#888" stroke-width="2.2"/>
<ellipse cx="-9" cy="39.5" rx="3.6" ry="2.8" fill="#9a3fc0" stroke="#3a1450" stroke-width="0.8"/>
<ellipse cx="14" cy="39.8" rx="4.4" ry="2.6" fill="#9a3fc0" stroke="#3a1450" stroke-width="0.8" transform="rotate(-12 14 39.8)"/>
<path d="M-13,8 L-12,28 Q-4,34 6,31 L5,10 Z" fill="#4ea6e4" stroke="#0d3b66" stroke-width="0.9"/>
<line x1="-4" y1="-12" x2="-6" y2="-17" stroke="#2b2b2b" stroke-width="0.8"/>
<circle cx="-6.2" cy="-18.5" r="1.9" fill="#8a3fb4" stroke="#3a1450" stroke-width="0.7"/>
<path d="M-14,10 C-16,-6 -8,-13 1,-12 C11,-11 15,-3 13,5 C8,11 -6,14 -14,10Z" fill="#b9b9b9" stroke="#2b2b2b" stroke-width="0.9"/>
<circle cx="-3.5" cy="1.5" r="1.3" fill="#e7dca0" stroke="#333" stroke-width="0.7"/>
<circle cx="9" cy="-1.5" r="1.2" fill="#e7dca0" stroke="#333" stroke-width="0.7"/>
<rect x="2" y="3" width="5" height="2.2" fill="#e7dca0" stroke="#333" stroke-width="0.6" transform="rotate(-15 4.5 4)"/>
<path d="M-10,16 Q-8,24 0,24" fill="none" stroke="#444" stroke-width="3.4" stroke-linecap="round"/>
<path d="M-10,16 Q-8,24 0,24" fill="none" stroke="#c9c9c9" stroke-width="2.2" stroke-linecap="round" stroke-dasharray="1.4 1"/>
</g>
<polygon points="844.0,137.5 857.5,145.5 872.5,136.3 872.5,128.8 859.0,120.8 844.0,130.0" fill="#ffffff" stroke="#2b2b2b" stroke-width="0.8" stroke-linejoin="round" />
<path d="M844.0,131.7 L857.5,139.7 L872.5,130.5 M844.0,133.4 L857.5,141.4 L872.5,132.2 M844.0,135.1 L857.5,143.1 L872.5,133.9 M844.0,136.8 L857.5,144.8 L872.5,135.6" fill="none" stroke="#2b2b2b" stroke-width="0.45"/>
<polyline points="844.0,130.0 857.5,138.0 872.5,128.8" fill="none" stroke="#2b2b2b" stroke-width="0.8" stroke-linejoin="round" stroke-linecap="round" />
<polyline points="857.5,138.0 857.5,145.5" fill="none" stroke="#2b2b2b" stroke-width="0.8" stroke-linejoin="round" stroke-linecap="round" />
<rect x="723.2" y="249.5" width="4.4" height="13.0" fill="#bdbdbd" stroke="#2b2b2b" stroke-width="0.8"/>
<rect x="745.0" y="262.0" width="4.4" height="13.0" fill="#bdbdbd" stroke="#2b2b2b" stroke-width="0.8"/>
<polygon points="722.9,247.1 747.6,260.5 747.6,263.5 722.9,250.1" fill="#666" stroke="#2b2b2b" stroke-width="0.7" stroke-linejoin="round" />
<polygon points="747.6,260.5 821.0,219.5 821.0,222.5 747.6,263.5" fill="#666" stroke="#2b2b2b" stroke-width="0.7" stroke-linejoin="round" />
<polygon points="722.9,247.1 796.2,205.2 821.0,219.5 747.6,260.5" fill="#adadad" stroke="#2b2b2b" stroke-width="0.8" stroke-linejoin="round" />
<polygon points="723.9,246.5 726.6,245.0 751.3,258.4 748.6,259.9" fill="#7a7a7a"/>
<polygon points="730.6,242.7 733.2,241.2 757.9,254.7 755.3,256.2" fill="#7a7a7a"/>
<polygon points="737.2,238.9 739.9,237.4 764.6,251.0 761.9,252.5" fill="#7a7a7a"/>
<polygon points="743.9,235.1 746.6,233.6 771.3,247.3 768.6,248.8" fill="#7a7a7a"/>
<polygon points="750.6,231.3 753.2,229.8 778.0,243.5 775.3,245.0" fill="#7a7a7a"/>
<polygon points="757.2,227.5 759.9,226.0 784.6,239.8 782.0,241.3" fill="#7a7a7a"/>
<polygon points="763.9,223.7 766.5,222.2 791.3,236.1 788.6,237.6" fill="#7a7a7a"/>
<polygon points="770.5,219.9 773.2,218.3 798.0,232.4 795.3,233.8" fill="#7a7a7a"/>
<polygon points="777.2,216.1 779.9,214.5 804.7,228.6 802.0,230.1" fill="#7a7a7a"/>
<polygon points="783.9,212.2 786.5,210.7 811.3,224.9 808.7,226.4" fill="#7a7a7a"/>
<polygon points="790.5,208.4 793.2,206.9 818.0,221.2 815.3,222.7" fill="#7a7a7a"/>
<polygon points="722.9,247.1 796.2,205.2 821.0,219.5 747.6,260.5" fill="none" stroke="#2b2b2b" stroke-width="0.8" stroke-linejoin="round" />
<polygon points="742.9,237.6 760.0,235.7 762.9,245.2 746.7,248.1" fill="#ffffff" stroke="#2b2b2b" stroke-width="0.7" stroke-linejoin="round" />
<polyline points="742.9,237.6 753.1,241.6 760.0,235.7" fill="none" stroke="#2b2b2b" stroke-width="0.5" stroke-linejoin="round" stroke-linecap="round" />
<circle cx="753.1" cy="241.6" r="1.3" fill="#e8c32a" stroke="#2b2b2b" stroke-width="0.5"/>
<polygon points="771.4,223.3 788.6,220.9 791.4,230.0 775.2,232.9" fill="#ffffff" stroke="#2b2b2b" stroke-width="0.7" stroke-linejoin="round" />
<polyline points="771.4,223.3 781.6,226.8 788.6,220.9" fill="none" stroke="#2b2b2b" stroke-width="0.5" stroke-linejoin="round" stroke-linecap="round" />
<circle cx="781.6" cy="226.8" r="1.3" fill="#e8c32a" stroke="#2b2b2b" stroke-width="0.5"/>
<rect x="830.6" y="236.0" width="4.4" height="17.5" fill="#bdbdbd" stroke="#2b2b2b" stroke-width="0.8"/>
<rect x="865.2" y="218.0" width="4.4" height="15.5" fill="#bdbdbd" stroke="#2b2b2b" stroke-width="0.8"/>
<rect x="784.5" y="209.0" width="3.5" height="6.0" fill="#bdbdbd" stroke="#2b2b2b" stroke-width="0.8"/>
<polygon points="783.8,184.3 832.4,211.9 832.4,239.5 783.8,211.5" fill="#f7c915" stroke="#6b4a00" stroke-width="0.9" stroke-linejoin="round" />
<polygon points="832.4,211.9 869.5,191.0 869.5,220.5 832.4,239.5" fill="#f3c00e" stroke="#6b4a00" stroke-width="0.9" stroke-linejoin="round" />
<polygon points="783.8,184.3 820.4,162.4 869.5,191.0 832.4,211.9" fill="#f9d030" stroke="#6b4a00" stroke-width="0.9" stroke-linejoin="round" />
<polygon points="796.2,196.7 821.0,211.0 821.0,226.2 796.2,212.9" fill="#7a7a7a" stroke="#6b4a00" stroke-width="0.8" stroke-linejoin="round" />
<polygon points="796.2,205.2 821.0,219.5 821.0,226.2 796.2,212.9" fill="#9a9a9a" stroke="none" stroke-width="0" stroke-linejoin="round" />
<polyline points="802.4,208.8 796.4,212.3" fill="none" stroke="#555" stroke-width="1.6" stroke-linejoin="round" stroke-linecap="round" />
<polyline points="811.1,213.8 805.1,217.3" fill="none" stroke="#555" stroke-width="1.6" stroke-linejoin="round" stroke-linecap="round" />
<polyline points="819.8,218.8 813.8,222.3" fill="none" stroke="#555" stroke-width="1.6" stroke-linejoin="round" stroke-linecap="round" />
<g transform="translate(811.0,257.0) scale(0.98)">
<line x1="-6" y1="30" x2="-8" y2="38" stroke="#888" stroke-width="2.2"/>
<line x1="6" y1="31" x2="12" y2="38" stroke="#888" stroke-width="2.2"/>
<ellipse cx="-9" cy="39.5" rx="3.6" ry="2.8" fill="#9a3fc0" stroke="#3a1450" stroke-width="0.8"/>
<ellipse cx="14" cy="39.8" rx="4.4" ry="2.6" fill="#9a3fc0" stroke="#3a1450" stroke-width="0.8" transform="rotate(-12 14 39.8)"/>
<path d="M-13,8 L-12,28 Q-4,34 6,31 L5,10 Z" fill="#4ea6e4" stroke="#0d3b66" stroke-width="0.9"/>
<line x1="-4" y1="-12" x2="-6" y2="-17" stroke="#2b2b2b" stroke-width="0.8"/>
<circle cx="-6.2" cy="-18.5" r="1.9" fill="#8a3fb4" stroke="#3a1450" stroke-width="0.7"/>
<path d="M-14,10 C-16,-6 -8,-13 1,-12 C11,-11 15,-3 13,5 C8,11 -6,14 -14,10Z" fill="#b9b9b9" stroke="#2b2b2b" stroke-width="0.9"/>
<circle cx="-3.5" cy="1.5" r="1.3" fill="#e7dca0" stroke="#333" stroke-width="0.7"/>
<circle cx="9" cy="-1.5" r="1.2" fill="#e7dca0" stroke="#333" stroke-width="0.7"/>
<rect x="2" y="3" width="5" height="2.2" fill="#e7dca0" stroke="#333" stroke-width="0.6" transform="rotate(-15 4.5 4)"/>
<path d="M-10,16 Q-8,24 0,24" fill="none" stroke="#444" stroke-width="3.4" stroke-linecap="round"/>
<path d="M-10,16 Q-8,24 0,24" fill="none" stroke="#c9c9c9" stroke-width="2.2" stroke-linecap="round" stroke-dasharray="1.4 1"/>
</g>
<polygon points="810.0,274.2 823.2,282.0 838.0,273.0 838.0,266.6 824.7,258.8 810.0,267.8" fill="#ffffff" stroke="#2b2b2b" stroke-width="0.8" stroke-linejoin="round" />
<path d="M810.0,269.5 L823.2,277.3 L838.0,268.3 M810.0,271.2 L823.2,279.0 L838.0,270.0 M810.0,272.9 L823.2,280.7 L838.0,271.7" fill="none" stroke="#2b2b2b" stroke-width="0.45"/>
<polyline points="810.0,267.8 823.2,275.6 838.0,266.6" fill="none" stroke="#2b2b2b" stroke-width="0.8" stroke-linejoin="round" stroke-linecap="round" />
<polyline points="823.2,275.6 823.2,282.0" fill="none" stroke="#2b2b2b" stroke-width="0.8" stroke-linejoin="round" stroke-linecap="round" />
<polyline points="817.4,263.3 824.0,267.2 831.3,262.7" fill="none" stroke="#2b2b2b" stroke-width="0.5" stroke-linejoin="round" stroke-linecap="round" />
<circle cx="824.0" cy="267.2" r="0.9" fill="#e8c32a" stroke="#2b2b2b" stroke-width="0.4"/>
<polygon points="929.3,234.5 945.0,242.3 944.3,260.2 924.3,249.5" fill="#f7c915" stroke="#6b4a00" stroke-width="0.9" stroke-linejoin="round" />
<polygon points="945.0,242.3 960.0,234.5 964.3,250.0 944.3,260.2" fill="#f3c00e" stroke="#6b4a00" stroke-width="0.9" stroke-linejoin="round" />
<polygon points="929.3,234.5 944.0,227.5 960.0,234.5 945.0,242.3" fill="#f9d030" stroke="#6b4a00" stroke-width="0.9" stroke-linejoin="round" />
<polygon points="934.5,224.0 939.0,226.0 939.0,236.0 934.5,234.0" fill="#bdbdbd" stroke="#2b2b2b" stroke-width="0.7" stroke-linejoin="round" />
<polygon points="945.5,228.0 952.0,226.0 952.0,236.5 945.5,238.0" fill="#bdbdbd" stroke="#2b2b2b" stroke-width="0.7" stroke-linejoin="round" />
<polygon points="937.2,226.5 944.3,228.5 943.0,234.5 936.5,232.5" fill="#fff" stroke="#2b2b2b" stroke-width="0.6" stroke-linejoin="round" />
<polygon points="930.7,204.3 947.1,211.4 947.1,228.6 930.0,220.3" fill="#2c97e4" stroke="#0d3b66" stroke-width="0.9" stroke-linejoin="round" />
<polygon points="947.1,211.4 956.4,206.4 956.4,223.2 947.1,228.6" fill="#2389d6" stroke="#0d3b66" stroke-width="0.9" stroke-linejoin="round" />
<path d="M952.4,212.5 Q955.5,220 953.5,228" fill="none" stroke="#6b4200" stroke-width="3.6" stroke-linecap="round"/>
<path d="M952.4,212.5 Q955.5,220 953.5,228" fill="none" stroke="#f5a31e" stroke-width="2.4" stroke-linecap="round"/>
<circle cx="953.3" cy="229.5" r="1.6" fill="#fff" stroke="#333" stroke-width="0.6"/>
<path d="M931.5,207.5 L917.5,210" fill="none" stroke="#6b4200" stroke-width="4.0" stroke-linecap="round"/>
<path d="M931.5,207.5 L917.5,210" fill="none" stroke="#f5a31e" stroke-width="2.8" stroke-linecap="round"/>
<circle cx="916" cy="210.2" r="2.3" fill="#fff" stroke="#333" stroke-width="0.7"/>
<polyline points="916.2,195.4 917.2,208.0" fill="none" stroke="#2b2b2b" stroke-width="0.8" stroke-linejoin="round" stroke-linecap="round" />
<rect x="900.3" y="185.3" width="15.8" height="10.2" fill="#fff" stroke="#333" stroke-width="0.8"/>
<text x="902.0" y="193.0" font-family="&quot;Liberation Sans&quot;, sans-serif" font-size="4.6" font-weight="bold" fill="#222" textLength="12.5" lengthAdjust="spacing" >EOSE</text>
<polygon points="928.6,184.3 945.7,195.0 945.7,208.6 929.3,201.4" fill="#c6c6c6" stroke="#2b2b2b" stroke-width="0.9" stroke-linejoin="round" />
<polygon points="945.7,195.0 958.6,187.1 958.6,201.4 945.7,208.6" fill="#b4b4b4" stroke="#2b2b2b" stroke-width="0.9" stroke-linejoin="round" />
<polygon points="928.6,184.3 943.0,177.5 958.6,187.1 945.7,195.0" fill="#d4d4d4" stroke="#2b2b2b" stroke-width="0.9" stroke-linejoin="round" />
<circle cx="931.6" cy="194" r="1.3" fill="#c97a3a" stroke="#333" stroke-width="0.6"/>
<circle cx="942.1" cy="198.6" r="1.3" fill="#c97a3a" stroke="#333" stroke-width="0.6"/>
<polyline points="930.7,198.6 942.1,203.6" fill="none" stroke="#333" stroke-width="0.8" stroke-linejoin="round" stroke-linecap="round" />
<ellipse cx="953.6" cy="198.6" rx="2.5" ry="3.9" fill="#f5a31e" stroke="#6b4200" stroke-width="0.7"/>
<ellipse cx="941.8" cy="188" rx="8.2" ry="4.4" fill="#2c97e4" stroke="#0d3b66" stroke-width="0.9"/>
<path d="M935.3,177.3 L935.3,186 A8.3,4.3 0 0 0 951.9,186 L951.9,177.3Z" fill="#2c97e4" stroke="#0d3b66" stroke-width="0.9"/>
<ellipse cx="943.6" cy="177.2" rx="8.3" ry="4.3" fill="#3aa2ec" stroke="#0d3b66" stroke-width="0.9"/>
<g transform="translate(932.1,338.8) scale(1.67,1.67)">
<ellipse cx="-36.5" cy="-19.2" rx="3.6" ry="4.3" fill="#555" stroke="#2b2b2b" stroke-width="0.5389221556886228" transform="rotate(-25 -36.5 -19.2)"/>
<ellipse cx="-9.2" cy="-3.4" rx="3.6" ry="4.3" fill="#555" stroke="#2b2b2b" stroke-width="0.5389221556886228" transform="rotate(-25 -9.2 -3.4)"/>
<polygon points="-45.4,-32.1 -12.8,-13.8 5.6,-26.2 -27.0,-44.5" fill="#1a86d6" stroke="#0d3b66" stroke-width="0.5389221556886228" stroke-linejoin="round" />
<polygon points="-41.7,-31.3 -27.3,-24.2 -12.4,-33.2 -12.4,-43.8 -26.8,-50.9 -41.7,-41.9" fill="#ffffff" stroke="#2b2b2b" stroke-width="0.44910179640718567" stroke-linejoin="round" />
<path d="M-41.7,-40.3 L-27.3,-33.2 L-12.4,-42.2 M-41.7,-38.7 L-27.3,-31.6 L-12.4,-40.6 M-41.7,-37.1 L-27.3,-30.0 L-12.4,-39.0 M-41.7,-35.5 L-27.3,-28.4 L-12.4,-37.4 M-41.7,-33.9 L-27.3,-26.8 L-12.4,-35.8 M-41.7,-32.3 L-27.3,-25.2 L-12.4,-34.2" fill="none" stroke="#2b2b2b" stroke-width="0.55"/>
<polyline points="-41.7,-41.9 -27.3,-34.8 -12.4,-43.8" fill="none" stroke="#2b2b2b" stroke-width="0.44910179640718567" stroke-linejoin="round" stroke-linecap="round" />
<polyline points="-27.3,-34.8 -27.3,-24.2" fill="none" stroke="#2b2b2b" stroke-width="0.44910179640718567" stroke-linejoin="round" stroke-linecap="round" />
<polyline points="-34.2,-46.4 -19.9,-39.3 -19.9,-28.7" fill="none" stroke="#2b2b2b" stroke-width="0.3592814371257485" stroke-linejoin="round" stroke-linecap="round" />
<polyline points="-38.0,-44.1 -30.8,-40.6 -27.1,-42.8" fill="none" stroke="#2b2b2b" stroke-width="0.2694610778443114" stroke-linejoin="round" stroke-linecap="round" />
<circle cx="-30.8" cy="-40.6" r="0.9" fill="#e3c230" stroke="#2b2b2b" stroke-width="0.23952095808383236"/>
<polyline points="-30.5,-48.6 -23.3,-45.1 -19.6,-47.3" fill="none" stroke="#2b2b2b" stroke-width="0.2694610778443114" stroke-linejoin="round" stroke-linecap="round" />
<circle cx="-23.3" cy="-45.1" r="0.9" fill="#e3c230" stroke="#2b2b2b" stroke-width="0.23952095808383236"/>
<polygon points="-26.8,-22.3 -12.9,-15.4 -0.3,-24.8 -0.3,-45.2 -14.2,-52.1 -26.8,-42.7" fill="#ffffff" stroke="#2b2b2b" stroke-width="0.44910179640718567" stroke-linejoin="round" />
<path d="M-26.8,-41.1 L-12.9,-34.2 L-0.3,-43.6 M-26.8,-39.5 L-12.9,-32.6 L-0.3,-42.0 M-26.8,-37.9 L-12.9,-31.0 L-0.3,-40.4 M-26.8,-36.3 L-12.9,-29.4 L-0.3,-38.8 M-26.8,-34.7 L-12.9,-27.8 L-0.3,-37.2 M-26.8,-33.1 L-12.9,-26.2 L-0.3,-35.6 M-26.8,-31.5 L-12.9,-24.6 L-0.3,-34.0 M-26.8,-29.9 L-12.9,-23.0 L-0.3,-32.4 M-26.8,-28.3 L-12.9,-21.4 L-0.3,-30.8 M-26.8,-26.7 L-12.9,-19.8 L-0.3,-29.2 M-26.8,-25.1 L-12.9,-18.2 L-0.3,-27.6 M-26.8,-23.5 L-12.9,-16.6 L-0.3,-26.0" fill="none" stroke="#2b2b2b" stroke-width="0.55"/>
<polyline points="-26.8,-42.7 -12.9,-35.8 -0.3,-45.2" fill="none" stroke="#2b2b2b" stroke-width="0.44910179640718567" stroke-linejoin="round" stroke-linecap="round" />
<polyline points="-12.9,-35.8 -12.9,-15.4" fill="none" stroke="#2b2b2b" stroke-width="0.44910179640718567" stroke-linejoin="round" stroke-linecap="round" />
<polyline points="-20.5,-47.4 -6.6,-40.5 -6.6,-20.1" fill="none" stroke="#2b2b2b" stroke-width="0.3592814371257485" stroke-linejoin="round" stroke-linecap="round" />
<polyline points="-23.6,-45.0 -16.7,-41.6 -13.6,-44.0" fill="none" stroke="#2b2b2b" stroke-width="0.2694610778443114" stroke-linejoin="round" stroke-linecap="round" />
<circle cx="-16.7" cy="-41.6" r="0.9" fill="#e3c230" stroke="#2b2b2b" stroke-width="0.23952095808383236"/>
<polyline points="-17.4,-49.8 -10.4,-46.3 -7.2,-48.7" fill="none" stroke="#2b2b2b" stroke-width="0.2694610778443114" stroke-linejoin="round" stroke-linecap="round" />
<circle cx="-10.4" cy="-46.3" r="0.9" fill="#e3c230" stroke="#2b2b2b" stroke-width="0.23952095808383236"/>
<polygon points="-45.4,-32.1 -12.8,-13.8 -12.8,-7.6 -45.4,-26.6" fill="#2196e6" stroke="#0d3b66" stroke-width="0.5389221556886228" stroke-linejoin="round" />
<polygon points="-12.8,-27.0 5.6,-39.5 11.7,-37.2 -5.6,-25.8" fill="#2a9cea" stroke="#0d3b66" stroke-width="0.5389221556886228" stroke-linejoin="round" />
<polygon points="-12.8,-6.6 -12.8,-27.0 -5.6,-25.8 0.0,-14.8 0.0,0.0" fill="#2196e6" stroke="#0d3b66" stroke-width="0.5389221556886228" stroke-linejoin="round" />
<polygon points="0.0,-14.8 -5.6,-25.8 11.7,-37.2 18.9,-25.0" fill="#2a9cea" stroke="#0d3b66" stroke-width="0.5389221556886228" stroke-linejoin="round" />
<polygon points="0.0,-14.8 18.9,-25.0 18.9,-10.7 0.0,0.0" fill="#2a9cea" stroke="#0d3b66" stroke-width="0.5389221556886228" stroke-linejoin="round" />
<polygon points="2.0,-16.6 -3.0,-23.6 11.2,-33.2 16.3,-24.4" fill="#7cc4f0" stroke="#0d3b66" stroke-width="0.43113772455089827" stroke-linejoin="round" />
<polygon points="-11.5,-24.0 -5.4,-22.6 -1.6,-14.8 -11.5,-18.0" fill="#7cc4f0" stroke="#0d3b66" stroke-width="0.43113772455089827" stroke-linejoin="round" />
<ellipse cx="3.4" cy="-9.9" rx="1.2" ry="1.7" fill="#f2e23a" stroke="#0d3b66" stroke-width="0.43113772455089827"/>
<ellipse cx="16.3" cy="-17.3" rx="1.2" ry="1.7" fill="#f2e23a" stroke="#0d3b66" stroke-width="0.43113772455089827"/>
</g>
</g>
<path d="M676.0,-14.0 C674.6,-11.7 671.1,-5.4 667.8,0.0 C664.5,5.4 659.7,11.9 656.2,18.5 C652.7,25.1 649.9,30.8 647.0,39.3 C644.1,47.8 641.0,59.8 638.9,69.4 C636.8,79.0 635.4,87.8 634.3,97.1 C633.1,106.3 632.5,116.4 632.0,124.9 C631.5,133.4 631.4,141.3 631.5,148.0 C631.6,154.7 631.9,159.2 632.7,165.0 C633.6,170.8 635.0,176.2 636.6,183.1 C638.2,190.0 640.3,198.9 642.4,206.2 C644.5,213.5 646.4,219.7 649.3,227.0 C652.2,234.3 655.9,242.9 659.7,250.2 C663.6,257.5 667.6,263.9 672.4,271.0 C677.2,278.1 685.9,289.3 688.6,293.0 L643.5,313.8 L703.5,306.2 C706.2,308.4 712.0,313.9 719.6,319.6 C727.2,325.3 739.3,334.4 749.2,340.3 C759.1,346.2 768.9,350.8 778.8,355.1 C788.7,359.5 798.5,363.4 808.4,366.4 C818.3,369.4 828.1,371.2 838.0,372.9 C847.9,374.6 857.7,375.5 867.6,376.4 C877.5,377.3 887.3,377.9 897.2,378.2 C907.1,378.5 916.9,378.6 926.8,378.2 C936.6,377.8 947.4,376.7 956.3,375.8 C965.2,374.9 973.4,373.8 980.0,372.9 C986.6,372.0 993.3,370.9 996.0,370.5 L996,-14 Z" fill="none" stroke="#62b3e6" stroke-width="3.6" stroke-linejoin="miter"/>
<text x="792.5" y="16.2" font-family="&quot;Liberation Sans&quot;, sans-serif" font-size="13.2" font-weight="bold" fill="#2a9fe2" textLength="182.0" lengthAdjust="spacing" >INSIDE A RELAY SERVER</text>
<text x="663.9" y="34.3" font-family="&quot;Liberation Sans&quot;, sans-serif" font-size="11.8" font-weight="normal" fill="#263238" >Saving</text>
<text x="663.9" y="49.0" font-family="&quot;Liberation Sans&quot;, sans-serif" font-size="11.8" font-weight="normal" fill="#263238" textLength="84.5" lengthAdjust="spacing" >received data...</text>
<text x="792.9" y="336.8" font-family="&quot;Liberation Sans&quot;, sans-serif" font-size="11.8" font-weight="normal" fill="#263238" textLength="72.5" lengthAdjust="spacing" >Sending data</text>
<text x="792.9" y="351.6" font-family="&quot;Liberation Sans&quot;, sans-serif" font-size="11.8" font-weight="normal" fill="#263238" textLength="123.3" lengthAdjust="spacing" >according to request...</text>
<clipPath id="cc"><path d="M-14.0,508.0 C-11.7,506.6 -6.8,503.7 0.0,499.6 C6.8,495.6 17.7,488.6 26.5,483.7 C35.3,478.8 42.4,474.4 53.0,470.4 C63.6,466.4 76.9,462.7 90.2,459.8 C103.5,456.9 116.8,454.8 132.7,453.2 C148.6,451.6 172.5,450.7 185.7,450.5 C198.9,450.3 204.9,451.3 212.0,452.0 C219.1,452.7 225.5,454.1 228.2,454.5 Q237,428 245.3,376.5 L247.3,458.4 C249.4,458.9 254.5,459.7 260.0,461.2 C265.5,462.7 273.6,464.9 280.4,467.3 C287.2,469.7 294.0,472.4 300.8,475.5 C307.6,478.6 314.4,481.9 321.2,485.7 C328.0,489.4 334.8,493.8 341.6,498.0 C348.4,502.2 355.2,506.3 362.0,511.2 C368.8,516.1 375.6,522.0 382.4,527.6 C389.2,533.2 396.1,538.5 402.9,544.9 C409.7,551.3 417.2,559.5 423.3,566.3 C429.4,573.1 435.2,580.1 439.6,585.7 C444.0,591.3 446.6,594.9 449.8,600.0 C453.0,605.1 456.2,611.1 458.7,616.6 C461.2,622.1 463.3,627.6 465.0,633.0 C466.7,638.4 467.6,640.7 468.7,648.7 C469.8,656.7 471.6,666.4 471.9,680.8 C472.2,695.2 471.0,723.5 470.7,735.0 C470.4,746.5 470.1,747.5 470.0,750.0 L-14,750 Z"/></clipPath>
<path d="M-14.0,508.0 C-11.7,506.6 -6.8,503.7 0.0,499.6 C6.8,495.6 17.7,488.6 26.5,483.7 C35.3,478.8 42.4,474.4 53.0,470.4 C63.6,466.4 76.9,462.7 90.2,459.8 C103.5,456.9 116.8,454.8 132.7,453.2 C148.6,451.6 172.5,450.7 185.7,450.5 C198.9,450.3 204.9,451.3 212.0,452.0 C219.1,452.7 225.5,454.1 228.2,454.5 Q237,428 245.3,376.5 L247.3,458.4 C249.4,458.9 254.5,459.7 260.0,461.2 C265.5,462.7 273.6,464.9 280.4,467.3 C287.2,469.7 294.0,472.4 300.8,475.5 C307.6,478.6 314.4,481.9 321.2,485.7 C328.0,489.4 334.8,493.8 341.6,498.0 C348.4,502.2 355.2,506.3 362.0,511.2 C368.8,516.1 375.6,522.0 382.4,527.6 C389.2,533.2 396.1,538.5 402.9,544.9 C409.7,551.3 417.2,559.5 423.3,566.3 C429.4,573.1 435.2,580.1 439.6,585.7 C444.0,591.3 446.6,594.9 449.8,600.0 C453.0,605.1 456.2,611.1 458.7,616.6 C461.2,622.1 463.3,627.6 465.0,633.0 C466.7,638.4 467.6,640.7 468.7,648.7 C469.8,656.7 471.6,666.4 471.9,680.8 C472.2,695.2 471.0,723.5 470.7,735.0 C470.4,746.5 470.1,747.5 470.0,750.0 L-14,750 Z" fill="#f1ddf4"/>
<g clip-path="url(#cc)">
<polyline points="196.0,440.0 196.0,537.7" fill="none" stroke="#2b2b2b" stroke-width="0.9" stroke-linejoin="round" stroke-linecap="round" />
<polyline points="196.0,537.7 -10.0,654.0" fill="none" stroke="#2b2b2b" stroke-width="0.9" stroke-linejoin="round" stroke-linecap="round" />
<polyline points="196.0,537.7 480.0,699.3" fill="none" stroke="#2b2b2b" stroke-width="0.9" stroke-linejoin="round" stroke-linecap="round" />
<rect x="299.8" y="574.0" width="5.2" height="27.0" fill="#bdbdbd" stroke="#2b2b2b" stroke-width="0.8"/>
<polygon points="232.9,612.9 305.4,572.9 305.4,575.9 232.9,615.9" fill="#666" stroke="#2b2b2b" stroke-width="0.7" stroke-linejoin="round" />
<polygon points="209.2,599.5 281.7,561.1 305.4,572.9 232.9,612.9" fill="#adadad" stroke="#2b2b2b" stroke-width="0.8" stroke-linejoin="round" />
<polygon points="210.3,598.9 213.2,597.4 236.9,610.7 234.0,612.3" fill="#7a7a7a"/>
<polygon points="217.5,595.1 220.4,593.5 244.1,606.7 241.2,608.3" fill="#7a7a7a"/>
<polygon points="224.8,591.2 227.7,589.7 251.4,602.7 248.5,604.3" fill="#7a7a7a"/>
<polygon points="232.0,587.4 234.9,585.9 258.6,598.7 255.7,600.3" fill="#7a7a7a"/>
<polygon points="239.3,583.6 242.2,582.0 265.9,594.7 263.0,596.3" fill="#7a7a7a"/>
<polygon points="246.5,579.7 249.4,578.2 273.1,590.7 270.2,592.3" fill="#7a7a7a"/>
<polygon points="253.8,575.9 256.7,574.3 280.4,586.7 277.5,588.3" fill="#7a7a7a"/>
<polygon points="261.0,572.0 263.9,570.5 287.6,582.7 284.7,584.3" fill="#7a7a7a"/>
<polygon points="268.3,568.2 271.2,566.7 294.9,578.7 292.0,580.3" fill="#7a7a7a"/>
<polygon points="275.5,564.4 278.4,562.8 302.1,574.7 299.2,576.3" fill="#7a7a7a"/>
<polygon points="209.2,599.5 281.7,561.1 305.4,572.9 232.9,612.9" fill="none" stroke="#2b2b2b" stroke-width="0.8" stroke-linejoin="round" />
<polygon points="281.7,544.2 305.4,556.0 305.4,572.9 281.7,561.1" fill="#4ba9e6" stroke="#0d3b66" stroke-width="0.9" stroke-linejoin="round" />
<polygon points="269.9,571.4 290.6,565.5 293.6,575.9 274.3,581.8" fill="#ffffff" stroke="#2b2b2b" stroke-width="0.7" stroke-linejoin="round" />
<polyline points="269.9,571.4 282.1,573.6 290.6,565.5" fill="none" stroke="#2b2b2b" stroke-width="0.5" stroke-linejoin="round" stroke-linecap="round" />
<circle cx="282.1" cy="573.6" r="1.3" fill="#e8c32a" stroke="#2b2b2b" stroke-width="0.5"/>
<polygon points="228.5,593.6 246.2,589.2 249.2,599.5 231.4,604.0" fill="#ffffff" stroke="#2b2b2b" stroke-width="0.7" stroke-linejoin="round" />
<polyline points="228.5,593.6 238.8,596.6 246.2,589.2" fill="none" stroke="#2b2b2b" stroke-width="0.5" stroke-linejoin="round" stroke-linecap="round" />
<circle cx="238.8" cy="596.6" r="1.3" fill="#e8c32a" stroke="#2b2b2b" stroke-width="0.5"/>
<rect x="24.6" y="627.0" width="5.6" height="24.5" fill="#bdbdbd" stroke="#2b2b2b" stroke-width="0.8"/>
<rect x="95.0" y="669.0" width="5.6" height="23.5" fill="#bdbdbd" stroke="#2b2b2b" stroke-width="0.8"/>
<polygon points="23.9,621.0 99.5,663.4 99.5,668.9 23.9,626.5" fill="#c48fdc" stroke="#2b2b2b" stroke-width="0.8" stroke-linejoin="round" />
<polygon points="23.9,621.0 74.3,594.4 145.4,635.5 99.5,663.4" fill="#e9e9e9" stroke="#2b2b2b" stroke-width="0.8" stroke-linejoin="round" />
<rect x="119.0" y="679.0" width="5.8" height="27.0" fill="#bdbdbd" stroke="#2b2b2b" stroke-width="0.8"/>
<polygon points="99.5,663.4 124.7,678.0 124.7,681.0 99.5,666.4" fill="#666" stroke="#2b2b2b" stroke-width="0.7" stroke-linejoin="round" />
<polygon points="124.7,678.0 185.8,644.8 185.8,647.8 124.7,681.0" fill="#666" stroke="#2b2b2b" stroke-width="0.7" stroke-linejoin="round" />
<polygon points="99.5,663.4 158.4,627.6 183.6,642.2 124.7,678.0" fill="#adadad" stroke="#2b2b2b" stroke-width="0.8" stroke-linejoin="round" />
<polygon points="100.5,662.8 103.1,661.2 128.3,675.8 125.7,677.4" fill="#7a7a7a"/>
<polygon points="107.0,658.8 109.6,657.2 134.8,671.8 132.2,673.4" fill="#7a7a7a"/>
<polygon points="113.6,654.8 116.2,653.3 141.4,667.9 138.8,669.4" fill="#7a7a7a"/>
<polygon points="120.1,650.9 122.7,649.3 147.9,663.9 145.3,665.5" fill="#7a7a7a"/>
<polygon points="126.7,646.9 129.3,645.3 154.5,659.9 151.9,661.5" fill="#7a7a7a"/>
<polygon points="133.2,642.9 135.8,641.3 161.0,655.9 158.4,657.5" fill="#7a7a7a"/>
<polygon points="139.7,638.9 142.4,637.3 167.6,651.9 164.9,653.5" fill="#7a7a7a"/>
<polygon points="146.3,635.0 148.9,633.4 174.1,648.0 171.5,649.6" fill="#7a7a7a"/>
<polygon points="152.8,631.0 155.5,629.4 180.7,644.0 178.0,645.6" fill="#7a7a7a"/>
<polygon points="99.5,663.4 158.4,627.6 183.6,642.2 124.7,678.0" fill="none" stroke="#2b2b2b" stroke-width="0.8" stroke-linejoin="round" />
<polygon points="120.8,656.8 140.7,646.2 151.3,655.4 131.4,667.4" fill="#fff" stroke="#2b2b2b" stroke-width="0.7" stroke-linejoin="round" />
<path d="M102.2,611.7 C101.6,607.9 101.6,598.2 102.4,593.1 C103.3,588.0 104.9,584.1 107.5,581.1 C110.1,578.1 114.6,575.5 118.1,575.0 C121.6,574.6 126.1,576.1 128.7,578.5 C131.4,580.8 132.9,584.5 134.0,589.1 C135.1,593.7 135.6,600.1 135.4,606.3 C135.1,612.6 134.5,623.5 132.7,626.5 C130.9,629.5 127.4,625.5 124.7,624.4 C122.1,623.3 119.9,621.6 116.8,620.1 C113.7,618.7 108.6,617.1 106.2,615.6 C103.7,614.2 102.8,615.4 102.2,611.7Z" fill="#f67a55" stroke="#4a2408" stroke-width="1.0" stroke-linejoin="round" stroke-linecap="round" />
<polyline points="114.6,572.4 116.2,576.6" fill="none" stroke="#4a2408" stroke-width="0.8" stroke-linejoin="round" stroke-linecap="round" />
<polyline points="118.9,571.3 118.9,575.6" fill="none" stroke="#4a2408" stroke-width="0.8" stroke-linejoin="round" stroke-linecap="round" />
<polyline points="123.7,572.4 121.5,576.6" fill="none" stroke="#4a2408" stroke-width="0.8" stroke-linejoin="round" stroke-linecap="round" />
<circle cx="106.7" cy="603.7" r="0.9" fill="#3a1208"/>
<circle cx="122.6" cy="607.9" r="0.9" fill="#3a1208"/>
<polyline points="112.5,609.5 115.7,610.3" fill="none" stroke="#3a1208" stroke-width="0.8" stroke-linejoin="round" stroke-linecap="round" />
<polygon points="85.5,622.3 106.2,611.7 116.8,619.6 96.9,631.6" fill="#fff" stroke="#2b2b2b" stroke-width="0.7" stroke-linejoin="round" />
<circle cx="94.2" cy="603.5" r="2.7" fill="none" stroke="#6b5200" stroke-width="2.6"/>
<circle cx="94.2" cy="603.5" r="2.7" fill="none" stroke="#e9cb3a" stroke-width="1.5"/>
<polyline points="95.2,606.5 98.5,619.5" fill="none" stroke="#6b5200" stroke-width="2.4" stroke-linejoin="round" stroke-linecap="round" />
<polyline points="95.2,606.5 98.5,619.5" fill="none" stroke="#e9cb3a" stroke-width="1.3" stroke-linejoin="round" stroke-linecap="round" />
<polyline points="79.0,612.5 86.0,609.8" fill="none" stroke="#6b5200" stroke-width="2.8" stroke-linejoin="round" stroke-linecap="round" />
<polyline points="79.0,612.5 86.0,609.8" fill="none" stroke="#e9cb3a" stroke-width="1.6" stroke-linejoin="round" stroke-linecap="round" />
<rect x="193.2" y="662.0" width="5.6" height="16.0" fill="#bdbdbd" stroke="#2b2b2b" stroke-width="0.8"/>
<rect x="227.2" y="645.0" width="5.6" height="13.5" fill="#bdbdbd" stroke="#2b2b2b" stroke-width="0.8"/>
<rect x="148.2" y="633.0" width="4.0" height="6.0" fill="#bdbdbd" stroke="#2b2b2b" stroke-width="0.8"/>
<polygon points="147.3,609.0 196.4,638.2 196.4,664.2 147.3,635.5" fill="#f7c915" stroke="#6b4a00" stroke-width="0.9" stroke-linejoin="round" />
<polygon points="196.4,638.2 233.0,617.0 233.0,646.2 196.4,664.2" fill="#f3c00e" stroke="#6b4a00" stroke-width="0.9" stroke-linejoin="round" />
<polygon points="147.3,609.0 183.1,587.2 233.0,617.0 196.4,638.2" fill="#f9d030" stroke="#6b4a00" stroke-width="0.9" stroke-linejoin="round" />
<polygon points="158.4,623.6 183.1,636.9 183.1,650.1 158.4,635.5" fill="#7a7a7a" stroke="#6b4a00" stroke-width="0.8" stroke-linejoin="round" />
<polygon points="158.4,629.5 183.1,643.5 183.1,650.1 158.4,635.5" fill="#9a9a9a" stroke="none" stroke-width="0" stroke-linejoin="round" />
<polygon points="157.9,634.2 169.8,628.9 183.1,638.2 172.5,644.0" fill="#fff" stroke="#2b2b2b" stroke-width="0.7" stroke-linejoin="round" />
<polygon points="50.0,595.0 58.0,595.5 55.5,600.0" fill="#fff" stroke="#2b2b2b" stroke-width="0.8" stroke-linejoin="round" />
<ellipse cx="47.8" cy="587.2" rx="21.0" ry="9.3" fill="#fff" stroke="#2b2b2b" stroke-width="0.8"/>
<polygon points="50.0,595.0 58.0,595.5 55.5,600.0" fill="#fff" stroke="none" stroke-width="0" stroke-linejoin="round" />
<text x="47.8" y="589.4" font-family="&quot;Liberation Mono&quot;, monospace" font-size="6.6" font-weight="bold" fill="#222" textLength="29.0" lengthAdjust="spacing" text-anchor="middle">content</text>
<polygon points="82.0,588.0 90.0,587.5 88.0,592.5" fill="#fff" stroke="#2b2b2b" stroke-width="0.8" stroke-linejoin="round" />
<ellipse cx="84.9" cy="579.3" rx="15.4" ry="10.0" fill="#fff" stroke="#2b2b2b" stroke-width="0.8"/>
<polygon points="82.0,588.0 90.0,587.5 88.0,592.5" fill="#fff" stroke="none" stroke-width="0" stroke-linejoin="round" />
<text x="84.9" y="581.5" font-family="&quot;Liberation Mono&quot;, monospace" font-size="6.8" font-weight="bold" fill="#222" textLength="17.0" lengthAdjust="spacing" text-anchor="middle">kind</text>
<polygon points="52.0,610.0 61.0,616.0 52.0,619.0" fill="#fff" stroke="#2b2b2b" stroke-width="0.8" stroke-linejoin="round" />
<ellipse cx="39.0" cy="613.8" rx="16.0" ry="10.0" fill="#fff" stroke="#2b2b2b" stroke-width="0.8"/>
<polygon points="52.0,610.0 61.0,616.0 52.0,619.0" fill="#fff" stroke="none" stroke-width="0" stroke-linejoin="round" />
<text x="39.0" y="616.0" font-family="&quot;Liberation Mono&quot;, monospace" font-size="6.8" font-weight="bold" fill="#222" textLength="17.0" lengthAdjust="spacing" text-anchor="middle">tags</text>
<polygon points="73.0,630.0 82.0,627.0 76.0,636.0" fill="#fff" stroke="#2b2b2b" stroke-width="0.8" stroke-linejoin="round" />
<ellipse cx="57.0" cy="632.9" rx="20.7" ry="8.0" fill="#fff" stroke="#2b2b2b" stroke-width="0.8"/>
<polygon points="73.0,630.0 82.0,627.0 76.0,636.0" fill="#fff" stroke="none" stroke-width="0" stroke-linejoin="round" />
<text x="57.0" y="635.0" font-family="&quot;Liberation Mono&quot;, monospace" font-size="6.4" font-weight="bold" fill="#222" textLength="25.0" lengthAdjust="spacing" text-anchor="middle">pubkey</text>
<polygon points="92.0,644.0 96.5,637.5 98.0,644.0" fill="#fff" stroke="#2b2b2b" stroke-width="0.8" stroke-linejoin="round" />
<ellipse cx="92.4" cy="650.1" rx="21.0" ry="7.4" fill="#fff" stroke="#2b2b2b" stroke-width="0.8"/>
<polygon points="92.0,644.0 96.5,637.5 98.0,644.0" fill="#fff" stroke="none" stroke-width="0" stroke-linejoin="round" />
<text x="92.4" y="651.8" font-family="&quot;Liberation Mono&quot;, monospace" font-size="5.2" font-weight="bold" fill="#222" textLength="33.0" lengthAdjust="spacing" text-anchor="middle">created_at</text>
<polygon points="172.0,579.5 177.5,586.5 178.0,578.0" fill="#fff" stroke="#2b2b2b" stroke-width="0.8" stroke-linejoin="round" />
<ellipse cx="171.2" cy="571.3" rx="10.0" ry="9.3" fill="#fff" stroke="#2b2b2b" stroke-width="0.8"/>
<polygon points="172.0,579.5 177.5,586.5 178.0,578.0" fill="#fff" stroke="none" stroke-width="0" stroke-linejoin="round" />
<text x="171.2" y="573.6" font-family="&quot;Liberation Mono&quot;, monospace" font-size="7" font-weight="bold" fill="#222" textLength="7.0" lengthAdjust="spacing" text-anchor="middle">id</text>
<polygon points="190.0,579.0 192.5,586.5 197.0,580.0" fill="#fff" stroke="#2b2b2b" stroke-width="0.8" stroke-linejoin="round" />
<ellipse cx="196.4" cy="571.3" rx="10.6" ry="9.3" fill="#fff" stroke="#2b2b2b" stroke-width="0.8"/>
<polygon points="190.0,579.0 192.5,586.5 197.0,580.0" fill="#fff" stroke="none" stroke-width="0" stroke-linejoin="round" />
<text x="196.4" y="573.6" font-family="&quot;Liberation Mono&quot;, monospace" font-size="7" font-weight="bold" fill="#222" textLength="11.5" lengthAdjust="spacing" text-anchor="middle">sig</text>
<polygon points="367.0,567.0 403.7,588.6 403.7,600.6 367.0,579.0" fill="#f7c915" stroke="#6b4a00" stroke-width="0.9" stroke-linejoin="round" />
<polygon points="403.7,588.6 416.4,580.9 416.4,592.9 403.7,600.6" fill="#f3c00e" stroke="#6b4a00" stroke-width="0.9" stroke-linejoin="round" />
<polygon points="367.0,567.0 403.7,588.6 416.4,580.9 379.7,559.3" fill="#f9d030" stroke="#6b4a00" stroke-width="0.9" stroke-linejoin="round" />
<polygon points="372.0,578.0 393.0,590.5 393.0,596.5 372.0,584.0" fill="#8a6a00" stroke="#6b4a00" stroke-width="0.6" stroke-linejoin="round" />
<path d="M376,582 L392.5,591.5 Q389,596 386.8,600.4 L369,590.7 Q374,587 376,582Z" fill="#fff" stroke="#2b2b2b" stroke-width="0.8"/>
<path d="M282.3,656.7 C279.1,651.7 279.6,639.2 280.0,632.1 C280.4,625.0 281.8,618.8 284.7,614.3 C287.6,609.9 293.1,606.2 297.1,605.2 C301.2,604.1 305.8,605.9 309.0,608.1 C312.1,610.4 314.5,614.5 316.1,618.8 C317.7,623.0 318.1,627.2 318.4,633.6 C318.7,640.0 321.0,652.6 317.8,657.3 C314.7,661.9 305.4,661.8 299.5,661.7 C293.6,661.6 285.6,661.6 282.3,656.7Z" fill="#f67a55" stroke="#4a2408" stroke-width="1.0" stroke-linejoin="round" stroke-linecap="round" />
<polyline points="297.7,600.4 299.5,605.2" fill="none" stroke="#4a2408" stroke-width="0.8" stroke-linejoin="round" stroke-linecap="round" />
<polyline points="301.9,599.5 301.9,604.6" fill="none" stroke="#4a2408" stroke-width="0.8" stroke-linejoin="round" stroke-linecap="round" />
<polyline points="306.0,600.4 304.2,605.2" fill="none" stroke="#4a2408" stroke-width="0.8" stroke-linejoin="round" stroke-linecap="round" />
<circle cx="290.0" cy="633.0" r="0.9" fill="#3a1208"/>
<polyline points="290.6,640.1 293.6,640.7" fill="none" stroke="#3a1208" stroke-width="0.8" stroke-linejoin="round" stroke-linecap="round" />
<rect x="257.8" y="680.0" width="6.0" height="22.0" fill="#bdbdbd" stroke="#2b2b2b" stroke-width="0.8"/>
<rect x="303.6" y="707.0" width="6.0" height="21.0" fill="#bdbdbd" stroke="#2b2b2b" stroke-width="0.8"/>
<rect x="410.4" y="644.0" width="6.0" height="22.0" fill="#bdbdbd" stroke="#2b2b2b" stroke-width="0.8"/>
<polygon points="257.5,673.5 304.0,700.2 304.0,706.7 257.5,680.0" fill="#c48fdc" stroke="#2b2b2b" stroke-width="0.8" stroke-linejoin="round" />
<polygon points="304.0,700.2 416.4,637.1 416.4,643.6 304.0,706.7" fill="#cf9be4" stroke="#2b2b2b" stroke-width="0.8" stroke-linejoin="round" />
<polygon points="257.5,673.5 370.0,610.5 416.4,637.1 304.0,700.2" fill="#e9e9e9" stroke="#2b2b2b" stroke-width="0.8" stroke-linejoin="round" />
<polygon points="295.0,632.0 320.2,630.6 315.8,652.8 292.0,655.8" fill="#fff" stroke="#2b2b2b" stroke-width="0.8" stroke-linejoin="round" />
<circle cx="315.5" cy="641.0" r="1.3" fill="#f67a55"/>
<path d="M289.0,647.0 C290.2,646.7 294.5,644.5 296.0,645.0 C297.5,645.5 297.7,649.2 298.0,650.0" fill="none" stroke="#4a2408" stroke-width="0.8" stroke-linejoin="round" stroke-linecap="round" />
<polygon points="343.9,636.5 367.6,652.8 386.8,640.9 386.8,615.8 363.1,599.5 343.9,611.4" fill="#ffffff" stroke="#2b2b2b" stroke-width="0.8" stroke-linejoin="round" />
<path d="M343.9,613.9 L367.6,630.2 L386.8,618.3 M343.9,616.4 L367.6,632.7 L386.8,620.8 M343.9,618.9 L367.6,635.2 L386.8,623.3 M343.9,621.4 L367.6,637.7 L386.8,625.8 M343.9,623.9 L367.6,640.2 L386.8,628.3 M343.9,626.4 L367.6,642.7 L386.8,630.8 M343.9,628.9 L367.6,645.2 L386.8,633.3 M343.9,631.4 L367.6,647.7 L386.8,635.8 M343.9,633.9 L367.6,650.2 L386.8,638.3" fill="none" stroke="#2b2b2b" stroke-width="0.6"/>
<polyline points="343.9,611.4 367.6,627.7 386.8,615.8" fill="none" stroke="#2b2b2b" stroke-width="0.8" stroke-linejoin="round" stroke-linecap="round" />
<polyline points="367.6,627.7 367.6,652.8" fill="none" stroke="#2b2b2b" stroke-width="0.8" stroke-linejoin="round" stroke-linecap="round" />
<polygon points="326.1,651.3 338.0,640.4 355.7,648.4 346.3,661.7" fill="#fff" stroke="#2b2b2b" stroke-width="0.7" stroke-linejoin="round" />
<polygon points="293.6,661.7 318.7,657.3 325.5,674.1 299.0,678.5" fill="#fff" stroke="#2b2b2b" stroke-width="0.7" stroke-linejoin="round" />
<polygon points="287.7,667.6 309.9,663.2 317.3,678.0 292.1,683.3" fill="#fff" stroke="#2b2b2b" stroke-width="0.7" stroke-linejoin="round" />
</g>
<path d="M-14.0,508.0 C-11.7,506.6 -6.8,503.7 0.0,499.6 C6.8,495.6 17.7,488.6 26.5,483.7 C35.3,478.8 42.4,474.4 53.0,470.4 C63.6,466.4 76.9,462.7 90.2,459.8 C103.5,456.9 116.8,454.8 132.7,453.2 C148.6,451.6 172.5,450.7 185.7,450.5 C198.9,450.3 204.9,451.3 212.0,452.0 C219.1,452.7 225.5,454.1 228.2,454.5 Q237,428 245.3,376.5 L247.3,458.4 C249.4,458.9 254.5,459.7 260.0,461.2 C265.5,462.7 273.6,464.9 280.4,467.3 C287.2,469.7 294.0,472.4 300.8,475.5 C307.6,478.6 314.4,481.9 321.2,485.7 C328.0,489.4 334.8,493.8 341.6,498.0 C348.4,502.2 355.2,506.3 362.0,511.2 C368.8,516.1 375.6,522.0 382.4,527.6 C389.2,533.2 396.1,538.5 402.9,544.9 C409.7,551.3 417.2,559.5 423.3,566.3 C429.4,573.1 435.2,580.1 439.6,585.7 C444.0,591.3 446.6,594.9 449.8,600.0 C453.0,605.1 456.2,611.1 458.7,616.6 C461.2,622.1 463.3,627.6 465.0,633.0 C466.7,638.4 467.6,640.7 468.7,648.7 C469.8,656.7 471.6,666.4 471.9,680.8 C472.2,695.2 471.0,723.5 470.7,735.0 C470.4,746.5 470.1,747.5 470.0,750.0 L-14,750 Z" fill="none" stroke="#d7a6e6" stroke-width="3.0" stroke-linejoin="miter"/>
<text x="16.2" y="545.0" font-family="&quot;Liberation Sans&quot;, sans-serif" font-size="11.8" font-weight="normal" fill="#263238" textLength="120.8" lengthAdjust="spacing" >Writing and sending...</text>
<text x="343.3" y="704.2" font-family="&quot;Liberation Sans&quot;, sans-serif" font-size="11.8" font-weight="normal" fill="#263238" textLength="85.8" lengthAdjust="spacing" >Requesting and</text>
<text x="343.3" y="719.0" font-family="&quot;Liberation Sans&quot;, sans-serif" font-size="11.8" font-weight="normal" fill="#263238" textLength="72.5" lengthAdjust="spacing" >subscribing...</text>
<text x="9.5" y="728.0" font-family="&quot;Liberation Sans&quot;, sans-serif" font-size="17.5" font-weight="normal" fill="#b35fd0" textLength="142.3" lengthAdjust="spacing" stroke="#b35fd0" stroke-width="0.6">INSIDE A CLIENT</text>
<text x="21.0" y="29.0" font-family="&quot;Liberation Sans&quot;, sans-serif" font-size="14" font-weight="bold" fill="#f1e04a" textLength="62.0" lengthAdjust="spacing" >THIS IS</text>
<text x="18.0" y="74.0" font-family="&quot;Liberation Sans&quot;, sans-serif" font-size="50" font-weight="bold" fill="#fff" textLength="76.0" lengthAdjust="spacing" stroke="#fff" stroke-width="1.5">the</text>
<text x="96.5" y="72.2" font-family="&quot;Liberation Sans&quot;, sans-serif" font-size="71" font-weight="bold" fill="#fff" textLength="256.5" lengthAdjust="spacing" stroke="#fff" stroke-width="3.8" stroke-linejoin="miter">NOSTR</text>
<text x="19" y="96.5" font-family="&quot;Liberation Sans&quot;, sans-serif" font-size="14" xml:space="preserve" textLength="336" lengthAdjust="spacing"><tspan fill="#f1e04a" font-size="17.5">N</tspan><tspan fill="#fff">otes and </tspan><tspan fill="#f1e04a" font-size="17.5">O</tspan><tspan fill="#fff">ther </tspan><tspan fill="#f1e04a" font-size="17.5">S</tspan><tspan fill="#fff">tuff </tspan><tspan fill="#f1e04a" font-size="17.5">T</tspan><tspan fill="#fff">ransmitted by </tspan><tspan fill="#f1e04a" font-size="17.5">R</tspan><tspan fill="#fff">elays</tspan></text>
<text x="204.4" y="275.0" font-family="&quot;Liberation Sans&quot;, sans-serif" font-size="14" font-weight="normal" fill="#111" textLength="68.0" lengthAdjust="spacing" >CLIENT</text>
<text x="573.9" y="274.8" font-family="&quot;Liberation Sans&quot;, sans-serif" font-size="15.5" font-weight="normal" fill="#111" textLength="63.3" lengthAdjust="spacing" >RELAY</text>
<text x="920.0" y="727.5" font-family="&quot;Liberation Serif&quot;, serif" font-size="9" font-weight="normal" fill="#222" textLength="50.0" lengthAdjust="spacing" font-style="italic">@awayuki</text>
</svg>
</body></html>
